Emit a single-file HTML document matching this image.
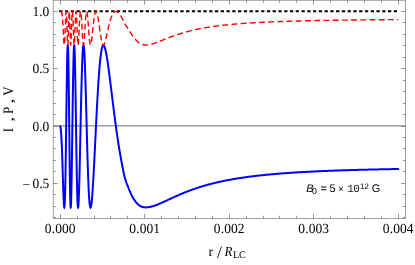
<!DOCTYPE html>
<html><head><meta charset="utf-8"><title>plot</title>
<style>html,body{margin:0;padding:0;background:#fff}svg{display:block}text{text-rendering:geometricPrecision}svg{will-change:transform}.fs{font-family:"Liberation Serif",serif}.fn{font-family:"Liberation Sans",sans-serif}.fm{font-family:"Liberation Mono",monospace}</style></head>
<body>
<svg width="415" height="265" viewBox="0 0 415 265">
<rect width="415" height="265" fill="#fff"/>
<line x1="59.2" y1="11.20" x2="398.3" y2="11.20" stroke="#000" stroke-width="2.0" stroke-dasharray="3.3 2.468"/>
<path d="M60.25,126.30 L60.30,126.39 L60.35,126.54 L60.40,126.73 L60.45,126.96 L60.50,127.23 L60.55,127.53 L60.60,127.87 L60.65,128.23 L60.70,128.62 L60.75,129.02 L60.80,129.44 L60.85,129.87 L60.90,130.31 L60.95,130.79 L61.00,131.36 L61.05,131.99 L61.10,132.69 L61.15,133.44 L61.20,134.23 L61.25,135.05 L61.30,135.89 L61.35,136.75 L61.40,137.61 L61.45,138.48 L61.50,139.37 L61.55,140.29 L61.60,141.24 L61.65,142.23 L61.70,143.24 L61.75,144.30 L61.80,145.39 L61.85,146.53 L61.90,147.71 L61.95,148.94 L62.00,150.22 L62.05,151.54 L62.10,152.91 L62.15,154.32 L62.20,155.76 L62.25,157.25 L62.30,158.76 L62.35,160.31 L62.40,161.89 L62.45,163.49 L62.50,165.11 L62.55,166.75 L62.60,168.40 L62.65,170.07 L62.70,171.74 L62.75,173.42 L62.80,175.10 L62.85,176.77 L62.90,178.44 L62.95,180.10 L63.00,181.74 L63.05,183.37 L63.10,184.97 L63.15,186.55 L63.20,188.10 L63.25,189.61 L63.30,191.08 L63.35,192.52 L63.40,193.90 L63.45,195.24 L63.50,196.52 L63.55,197.75 L63.60,198.92 L63.65,200.02 L63.70,201.06 L63.75,202.02 L63.80,202.92 L63.85,203.74 L63.90,204.48 L63.95,205.13 L64.00,205.71 L64.05,206.20 L64.10,206.61 L64.15,206.92 L64.20,207.15 L64.25,207.29 L64.30,207.33 L64.35,207.29 L64.40,207.14 L64.45,206.90 L64.50,206.56 L64.55,206.10 L64.60,205.54 L64.65,204.86 L64.70,204.06 L64.75,203.15 L64.80,202.11 L64.85,200.95 L64.90,199.66 L64.95,198.25 L65.00,196.70 L65.05,195.03 L65.10,193.23 L65.15,191.30 L65.20,189.24 L65.25,187.05 L65.30,184.74 L65.35,182.30 L65.40,179.74 L65.45,177.07 L65.50,174.27 L65.55,171.37 L65.60,168.35 L65.65,165.24 L65.70,162.02 L65.75,158.72 L65.80,155.33 L65.85,151.85 L65.90,148.31 L65.95,144.70 L66.00,141.03 L66.05,137.31 L66.10,133.55 L66.15,129.76 L66.20,125.94 L66.25,122.11 L66.30,118.27 L66.35,114.43 L66.40,110.61 L66.45,106.81 L66.50,103.04 L66.55,99.32 L66.60,95.65 L66.65,92.04 L66.70,88.51 L66.75,85.05 L66.80,81.69 L66.85,78.43 L66.90,75.28 L66.95,72.24 L67.00,69.33 L67.05,66.56 L67.10,63.93 L67.15,61.45 L67.20,59.13 L67.25,56.97 L67.30,54.97 L67.35,53.16 L67.40,51.52 L67.45,50.07 L67.50,48.80 L67.55,47.72 L67.60,46.84 L67.65,46.15 L67.70,45.66 L67.75,45.36 L67.80,45.27 L67.85,45.37 L67.90,45.67 L67.95,46.18 L68.00,46.89 L68.05,47.83 L68.10,48.98 L68.15,50.35 L68.20,51.94 L68.25,53.75 L68.30,55.77 L68.35,58.01 L68.40,60.46 L68.45,63.12 L68.50,65.98 L68.55,69.03 L68.60,72.27 L68.65,75.69 L68.70,79.28 L68.75,83.02 L68.80,86.91 L68.85,90.94 L68.90,95.09 L68.95,99.34 L69.00,103.69 L69.05,108.11 L69.10,112.61 L69.15,117.14 L69.20,121.71 L69.25,126.30 L69.30,130.89 L69.35,135.46 L69.40,139.99 L69.45,144.49 L69.50,148.91 L69.55,153.26 L69.60,157.51 L69.65,161.66 L69.70,165.69 L69.75,169.58 L69.80,173.32 L69.85,176.91 L69.90,180.33 L69.95,183.57 L70.00,186.62 L70.05,189.48 L70.10,192.14 L70.15,194.59 L70.20,196.83 L70.25,198.85 L70.30,200.66 L70.35,202.25 L70.40,203.62 L70.45,204.77 L70.50,205.71 L70.55,206.42 L70.60,206.93 L70.65,207.23 L70.70,207.33 L70.75,207.24 L70.80,206.94 L70.85,206.46 L70.90,205.79 L70.95,204.94 L71.00,203.90 L71.05,202.69 L71.10,201.31 L71.15,199.76 L71.20,198.05 L71.25,196.18 L71.30,194.17 L71.35,192.01 L71.40,189.71 L71.45,187.28 L71.50,184.72 L71.55,182.05 L71.60,179.26 L71.65,176.37 L71.70,173.38 L71.75,170.30 L71.80,167.14 L71.85,163.90 L71.90,160.59 L71.95,157.22 L72.00,153.79 L72.05,150.31 L72.10,146.80 L72.15,143.25 L72.20,139.68 L72.25,136.09 L72.30,132.49 L72.35,128.88 L72.40,125.28 L72.45,121.68 L72.50,118.11 L72.55,114.55 L72.60,111.03 L72.65,107.54 L72.70,104.10 L72.75,100.70 L72.80,97.36 L72.85,94.08 L72.90,90.87 L72.95,87.73 L73.00,84.66 L73.05,81.69 L73.10,78.79 L73.15,76.00 L73.20,73.29 L73.25,70.70 L73.30,68.20 L73.35,65.82 L73.40,63.56 L73.45,61.41 L73.50,59.38 L73.55,57.48 L73.60,55.71 L73.65,54.07 L73.70,52.56 L73.75,51.19 L73.80,49.96 L73.85,48.87 L73.90,47.92 L73.95,47.11 L74.00,46.45 L74.05,45.93 L74.10,45.56 L74.15,45.34 L74.20,45.27 L74.25,45.34 L74.30,45.56 L74.35,45.93 L74.40,46.45 L74.45,47.12 L74.50,47.93 L74.55,48.89 L74.60,50.00 L74.65,51.25 L74.70,52.63 L74.75,54.16 L74.80,55.82 L74.85,57.61 L74.90,59.53 L74.95,61.57 L75.00,63.74 L75.05,66.02 L75.10,68.41 L75.15,70.91 L75.20,73.52 L75.25,76.21 L75.30,79.00 L75.35,81.88 L75.40,84.83 L75.45,87.86 L75.50,90.95 L75.55,94.11 L75.60,97.32 L75.65,100.58 L75.70,103.88 L75.75,107.22 L75.80,110.58 L75.85,113.97 L75.90,117.37 L75.95,120.78 L76.00,124.19 L76.05,127.60 L76.10,130.99 L76.15,134.37 L76.20,137.73 L76.25,141.06 L76.30,144.35 L76.35,147.60 L76.40,150.81 L76.45,153.96 L76.50,157.06 L76.55,160.09 L76.60,163.05 L76.65,165.95 L76.70,168.77 L76.75,171.51 L76.80,174.16 L76.85,176.73 L76.90,179.20 L76.95,181.58 L77.00,183.87 L77.05,186.05 L77.10,188.14 L77.15,190.12 L77.20,191.99 L77.25,193.76 L77.30,195.42 L77.35,196.97 L77.40,198.41 L77.45,199.75 L77.50,200.97 L77.55,202.08 L77.60,203.08 L77.65,203.97 L77.70,204.76 L77.75,205.44 L77.80,206.01 L77.85,206.47 L77.90,206.84 L77.95,207.10 L78.00,207.27 L78.05,207.33 L78.10,207.30 L78.15,207.18 L78.20,206.97 L78.25,206.66 L78.30,206.27 L78.35,205.79 L78.40,205.22 L78.45,204.56 L78.50,203.83 L78.55,203.01 L78.60,202.11 L78.65,201.13 L78.70,200.08 L78.75,198.95 L78.80,197.75 L78.85,196.48 L78.90,195.14 L78.95,193.74 L79.00,192.27 L79.05,190.74 L79.10,189.15 L79.15,187.51 L79.20,185.81 L79.25,184.05 L79.30,182.25 L79.35,180.40 L79.40,178.50 L79.45,176.56 L79.50,174.57 L79.55,172.55 L79.60,170.49 L79.65,168.40 L79.70,166.27 L79.75,164.12 L79.80,161.93 L79.85,159.72 L79.90,157.49 L79.95,155.24 L80.00,152.97 L80.05,150.68 L80.10,148.38 L80.15,146.06 L80.20,143.74 L80.25,141.41 L80.30,139.07 L80.35,136.73 L80.40,134.38 L80.45,132.04 L80.50,129.70 L80.55,127.36 L80.60,125.03 L80.65,122.70 L80.70,120.39 L80.75,118.09 L80.80,115.80 L80.85,113.52 L80.90,111.26 L80.95,109.02 L81.00,106.80 L81.05,104.60 L81.10,102.43 L81.15,100.28 L81.20,98.15 L81.25,96.05 L81.30,93.98 L81.35,91.94 L81.40,89.94 L81.45,87.96 L81.50,86.02 L81.55,84.11 L81.60,82.24 L81.65,80.41 L81.70,78.61 L81.75,76.85 L81.80,75.14 L81.85,73.46 L81.90,71.83 L81.95,70.24 L82.00,68.69 L82.05,67.19 L82.10,65.73 L82.15,64.32 L82.20,62.96 L82.25,61.64 L82.30,60.37 L82.35,59.15 L82.40,57.98 L82.45,56.86 L82.50,55.79 L82.55,54.77 L82.60,53.80 L82.65,52.88 L82.70,52.01 L82.75,51.20 L82.80,50.43 L82.85,49.72 L82.90,49.06 L82.95,48.45 L83.00,47.90 L83.05,47.40 L83.10,46.95 L83.15,46.55 L83.20,46.21 L83.25,45.92 L83.30,45.69 L83.35,45.50 L83.40,45.37 L83.45,45.29 L83.50,45.27 L83.55,45.29 L83.60,45.37 L83.65,45.50 L83.70,45.68 L83.75,45.92 L83.80,46.21 L83.85,46.54 L83.90,46.93 L83.95,47.37 L84.00,47.86 L84.05,48.41 L84.10,49.00 L84.15,49.64 L84.20,50.33 L84.25,51.07 L84.30,51.85 L84.35,52.69 L84.40,53.57 L84.45,54.50 L84.50,55.47 L84.55,56.49 L84.60,57.55 L84.65,58.65 L84.70,59.80 L84.75,60.98 L84.80,62.21 L84.85,63.48 L84.90,64.78 L84.95,66.13 L85.00,67.51 L85.05,68.92 L85.10,70.37 L85.15,71.85 L85.20,73.37 L85.25,74.92 L85.30,76.49 L85.35,78.10 L85.40,79.73 L85.45,81.39 L85.50,83.08 L85.55,84.78 L85.60,86.52 L85.65,88.27 L85.70,90.04 L85.75,91.84 L85.80,93.65 L85.85,95.47 L85.90,97.32 L85.95,99.17 L86.00,101.04 L86.05,102.92 L86.10,104.81 L86.15,106.71 L86.20,108.62 L86.25,110.53 L86.30,112.45 L86.35,114.38 L86.40,116.30 L86.45,118.23 L86.50,120.16 L86.55,122.08 L86.60,124.01 L86.65,125.93 L86.70,127.84 L86.75,129.75 L86.80,131.66 L86.85,133.55 L86.90,135.44 L86.95,137.32 L87.00,139.18 L87.05,141.04 L87.10,142.88 L87.15,144.70 L87.20,146.51 L87.25,148.31 L87.30,150.09 L87.35,151.85 L87.40,153.59 L87.45,155.31 L87.50,157.01 L87.55,158.69 L87.60,160.35 L87.65,161.98 L87.70,163.60 L87.75,165.18 L87.80,166.75 L87.85,168.28 L87.90,169.80 L87.95,171.28 L88.00,172.74 L88.05,174.17 L88.10,175.57 L88.15,176.94 L88.20,178.29 L88.25,179.60 L88.30,180.89 L88.35,182.15 L88.40,183.37 L88.45,184.57 L88.50,185.73 L88.55,186.86 L88.60,187.96 L88.65,189.03 L88.70,190.07 L88.75,191.08 L88.80,192.06 L88.85,193.00 L88.90,193.91 L88.95,194.79 L89.00,195.64 L89.05,196.46 L89.10,197.24 L89.15,197.99 L89.20,198.72 L89.25,199.41 L89.30,200.07 L89.35,200.70 L89.40,201.29 L89.45,201.86 L89.50,202.40 L89.55,202.91 L89.60,203.38 L89.65,203.83 L89.70,204.25 L89.75,204.64 L89.80,205.00 L89.85,205.34 L89.90,205.64 L89.95,205.92 L90.00,206.18 L90.05,206.40 L90.10,206.60 L90.15,206.78 L90.20,206.93 L90.25,207.05 L90.30,207.16 L90.35,207.23 L90.40,207.29 L90.45,207.32 L90.50,207.33 L90.55,207.32 L90.60,207.29 L90.65,207.24 L90.70,207.16 L90.75,207.07 L90.80,206.95 L90.85,206.82 L90.90,206.66 L90.95,206.49 L91.00,206.29 L91.05,206.07 L91.10,205.84 L91.15,205.58 L91.20,205.31 L91.25,205.02 L91.30,204.71 L91.35,204.38 L91.40,204.03 L91.45,203.66 L91.50,203.28 L91.55,202.88 L91.60,202.46 L91.65,202.02 L91.70,201.57 L91.75,201.10 L91.80,200.62 L91.85,200.12 L91.90,199.60 L91.95,199.06 L92.00,198.52 L92.05,197.95 L92.10,197.37 L92.15,196.78 L92.20,196.17 L92.25,195.55 L92.30,194.91 L92.35,194.26 L92.40,193.60 L92.45,192.92 L92.50,192.23 L92.55,191.53 L92.60,190.81 L92.65,190.08 L92.70,189.35 L92.75,188.59 L92.80,187.83 L92.85,187.06 L92.90,186.27 L92.95,185.48 L93.00,184.67 L93.05,183.86 L93.10,183.03 L93.15,182.19 L93.20,181.35 L93.25,180.49 L93.30,179.63 L93.35,178.76 L93.40,177.88 L93.45,176.99 L93.50,176.09 L93.55,175.19 L93.60,174.28 L93.65,173.36 L93.70,172.43 L93.75,171.50 L93.80,170.56 L93.85,169.61 L93.90,168.66 L93.95,167.70 L94.00,166.74 L94.05,165.77 L94.10,164.80 L94.15,163.82 L94.20,162.84 L94.25,161.85 L94.30,160.86 L94.35,159.86 L94.40,158.86 L94.45,157.86 L94.50,156.85 L94.55,155.84 L94.60,154.83 L94.65,153.81 L94.70,152.80 L94.75,151.78 L94.80,150.76 L94.85,149.73 L94.90,148.71 L94.95,147.68 L95.00,146.65 L95.05,145.62 L95.10,144.59 L95.15,143.56 L95.20,142.53 L95.25,141.50 L95.30,140.47 L95.35,139.44 L95.40,138.41 L95.45,137.38 L95.50,136.35 L95.55,135.32 L95.60,134.29 L95.65,133.27 L95.70,132.24 L95.75,131.22 L95.80,130.19 L95.85,129.17 L95.90,128.15 L95.95,127.14 L96.00,126.12 L96.05,125.11 L96.10,124.10 L96.15,123.10 L96.20,122.09 L96.25,121.09 L96.30,120.09 L96.35,119.10 L96.40,118.11 L96.45,117.12 L96.50,116.14 L96.55,115.16 L96.60,114.18 L96.65,113.21 L96.70,112.25 L96.75,111.28 L96.80,110.33 L96.85,109.37 L96.90,108.42 L96.95,107.48 L97.00,106.54 L97.05,105.60 L97.10,104.67 L97.15,103.75 L97.20,102.83 L97.25,101.92 L97.30,101.01 L97.35,100.11 L97.40,99.21 L97.45,98.32 L97.50,97.44 L97.55,96.56 L97.60,95.69 L97.65,94.82 L97.70,93.96 L97.75,93.10 L97.80,92.26 L97.85,91.42 L97.90,90.58 L97.95,89.75 L98.00,88.93 L98.05,88.12 L98.10,87.31 L98.15,86.51 L98.20,85.71 L98.25,84.93 L98.30,84.15 L98.35,83.37 L98.40,82.61 L98.45,81.85 L98.50,81.10 L98.55,80.35 L98.60,79.62 L98.65,78.89 L98.70,78.17 L98.75,77.45 L98.80,76.75 L98.85,76.05 L98.90,75.35 L98.95,74.67 L99.00,73.99 L99.05,73.33 L99.10,72.67 L99.15,72.01 L99.20,71.37 L99.25,70.73 L99.30,70.10 L99.35,69.48 L99.40,68.86 L99.45,68.26 L99.50,67.66 L99.55,67.07 L99.60,66.49 L99.65,65.92 L99.70,65.35 L99.75,64.79 L99.80,64.24 L99.85,63.70 L99.90,63.17 L99.95,62.64 L100.00,62.12 L100.05,61.61 L100.10,61.11 L100.15,60.62 L100.20,60.13 L100.25,59.65 L100.30,59.18 L100.35,58.72 L100.40,58.27 L100.45,57.83 L100.50,57.39 L100.55,56.96 L100.60,56.54 L100.65,56.13 L100.70,55.72 L100.75,55.32 L100.80,54.94 L100.85,54.55 L100.90,54.18 L100.95,53.82 L101.00,53.46 L101.05,53.11 L101.10,52.77 L101.15,52.44 L101.20,52.11 L101.25,51.80 L101.30,51.49 L101.35,51.18 L101.40,50.89 L101.45,50.61 L101.50,50.33 L101.55,50.06 L101.60,49.79 L101.65,49.54 L101.70,49.29 L101.75,49.05 L101.80,48.82 L101.85,48.60 L101.90,48.38 L101.95,48.17 L102.00,47.97 L102.05,47.78 L102.10,47.59 L102.15,47.41 L102.20,47.24 L102.25,47.08 L102.30,46.92 L102.35,46.77 L102.40,46.63 L102.45,46.49 L102.50,46.36 L102.55,46.24 L102.60,46.13 L102.65,46.03 L102.70,45.93 L102.75,45.83 L102.80,45.75 L102.85,45.67 L102.90,45.60 L102.95,45.54 L103.00,45.48 L103.05,45.43 L103.10,45.39 L103.15,45.35 L103.20,45.32 L103.25,45.30 L103.30,45.28 L103.35,45.27 L103.40,45.27 L103.45,45.27 L103.50,45.28 L103.55,45.30 L103.60,45.32 L103.65,45.35 L103.70,45.38 L103.75,45.42 L103.80,45.47 L103.85,45.52 L103.90,45.58 L103.95,45.65 L104.00,45.72 L104.05,45.79 L104.10,45.87 L104.15,45.96 L104.20,46.05 L104.25,46.15 L104.30,46.25 L104.35,46.36 L104.40,46.48 L104.45,46.60 L104.50,46.72 L104.55,46.85 L104.60,46.98 L104.65,47.12 L104.70,47.26 L104.75,47.41 L104.80,47.56 L104.85,47.72 L104.90,47.88 L104.95,48.05 L105.00,48.22 L105.05,48.40 L105.10,48.57 L105.15,48.76 L105.20,48.95 L105.25,49.14 L105.30,49.33 L105.35,49.53 L105.40,49.74 L105.45,49.94 L105.50,50.16 L105.55,50.37 L105.60,50.59 L105.65,50.81 L105.70,51.04 L105.75,51.27 L105.80,51.50 L105.85,51.74 L105.90,51.98 L105.95,52.22 L106.00,52.47 L106.05,52.72 L106.10,52.97 L106.15,53.23 L106.20,53.49 L106.25,53.75 L106.30,54.02 L106.35,54.29 L106.40,54.56 L106.45,54.84 L106.50,55.11 L106.55,55.39 L106.60,55.68 L106.65,55.96 L106.70,56.25 L106.75,56.55 L106.80,56.84 L106.85,57.14 L106.90,57.44 L106.95,57.74 L107.00,58.04 L107.05,58.35 L107.10,58.66 L107.15,58.97 L107.20,59.29 L107.25,59.60 L107.30,59.92 L107.35,60.25 L107.40,60.57 L107.45,60.90 L107.50,61.22 L107.55,61.55 L107.60,61.89 L107.65,62.22 L107.70,62.56 L107.75,62.90 L107.80,63.24 L107.85,63.58 L107.90,63.93 L107.95,64.27 L108.00,64.62 L108.05,64.97 L108.10,65.33 L108.15,65.68 L108.20,66.04 L108.25,66.40 L108.30,66.76 L108.35,67.12 L108.40,67.48 L108.45,67.85 L108.50,68.22 L108.55,68.59 L108.60,68.96 L108.65,69.33 L108.70,69.70 L108.75,70.08 L108.80,70.46 L108.85,70.84 L108.90,71.22 L108.95,71.60 L109.00,71.98 L109.05,72.36 L109.10,72.75 L109.15,73.13 L109.20,73.52 L109.25,73.90 L109.30,74.29 L109.35,74.68 L109.40,75.07 L109.45,75.46 L109.50,75.85 L109.55,76.24 L109.60,76.63 L109.65,77.02 L109.70,77.42 L109.75,77.81 L109.80,78.20 L109.85,78.60 L109.90,78.99 L109.95,79.39 L110.00,79.78 L110.05,80.18 L110.10,80.58 L110.15,80.97 L110.20,81.37 L110.25,81.77 L110.30,82.17 L110.35,82.57 L110.40,82.97 L110.45,83.37 L110.50,83.77 L110.55,84.17 L110.60,84.57 L110.65,84.97 L110.70,85.37 L110.75,85.77 L110.80,86.18 L110.85,86.58 L110.90,86.98 L110.95,87.38 L111.00,87.78 L111.05,88.19 L111.10,88.59 L111.15,88.99 L111.20,89.40 L111.25,89.80 L111.30,90.20 L111.35,90.61 L111.40,91.01 L111.45,91.42 L111.50,91.82 L111.55,92.23 L111.60,92.63 L111.65,93.03 L111.70,93.44 L111.75,93.84 L111.80,94.25 L111.85,94.65 L111.90,95.06 L111.95,95.46 L112.00,95.87 L112.05,96.27 L112.10,96.68 L112.15,97.08 L112.20,97.49 L112.25,97.89 L112.30,98.30 L112.35,98.70 L112.40,99.11 L112.45,99.51 L112.50,99.92 L112.55,100.32 L112.60,100.73 L112.65,101.13 L112.70,101.54 L112.75,101.94 L112.80,102.35 L112.85,102.75 L112.90,103.16 L112.95,103.56 L113.00,103.97 L113.05,104.37 L113.10,104.78 L113.15,105.18 L113.20,105.59 L113.25,105.99 L113.30,106.39 L113.35,106.80 L113.40,107.20 L113.45,107.60 L113.50,108.00 L113.55,108.41 L113.60,108.80 L113.65,109.20 L113.70,109.60 L113.75,110.00 L113.80,110.39 L113.85,110.79 L113.90,111.18 L113.95,111.57 L114.00,111.96 L114.05,112.36 L114.10,112.75 L114.15,113.14 L114.20,113.52 L114.25,113.91 L114.30,114.30 L114.35,114.68 L114.40,115.07 L114.45,115.45 L114.50,115.84 L114.55,116.22 L114.60,116.60 L114.65,116.98 L114.70,117.36 L114.75,117.74 L114.80,118.12 L114.85,118.50 L114.90,118.88 L114.95,119.25 L115.00,119.63 L115.05,120.00 L115.10,120.38 L115.15,120.75 L115.20,121.13 L115.25,121.50 L115.30,121.87 L115.35,122.24 L115.40,122.62 L115.45,122.99 L115.50,123.36 L115.55,123.73 L115.60,124.10 L115.65,124.46 L115.70,124.83 L115.75,125.20 L115.80,125.57 L115.85,125.93 L115.90,126.30 L115.95,126.67 L116.00,127.03 L116.05,127.40 L116.10,127.76 L116.15,128.12 L116.20,128.48 L116.25,128.85 L116.30,129.21 L116.35,129.57 L116.40,129.93 L116.45,130.29 L116.50,130.64 L116.55,131.00 L116.60,131.36 L116.65,131.71 L116.70,132.07 L116.75,132.42 L116.80,132.78 L116.85,133.13 L116.90,133.48 L116.95,133.83 L117.00,134.18 L117.05,134.53 L117.10,134.88 L117.15,135.22 L117.20,135.57 L117.25,135.92 L117.30,136.26 L117.35,136.60 L117.40,136.95 L117.45,137.29 L117.50,137.63 L117.55,137.97 L117.60,138.31 L117.65,138.64 L117.70,138.98 L117.75,139.32 L117.80,139.65 L117.85,139.98 L117.90,140.32 L117.95,140.65 L118.00,140.98 L118.05,141.31 L118.10,141.64 L118.15,141.96 L118.20,142.29 L118.25,142.62 L118.30,142.94 L118.35,143.26 L118.40,143.58 L118.45,143.91 L118.50,144.23 L118.55,144.54 L118.60,144.86 L118.65,145.18 L118.70,145.49 L118.75,145.81 L118.80,146.12 L118.85,146.43 L118.90,146.74 L118.95,147.05 L119.00,147.36 L119.05,147.67 L119.10,147.98 L119.15,148.28 L119.20,148.59 L119.25,148.89 L119.30,149.19 L119.35,149.49 L119.40,149.79 L119.45,150.09 L119.50,150.39 L119.55,150.69 L119.60,150.99 L119.65,151.28 L119.70,151.58 L119.75,151.87 L119.80,152.17 L119.85,152.46 L119.90,152.75 L119.95,153.04 L120.00,153.33 L120.05,153.62 L120.10,153.91 L120.15,154.19 L120.20,154.48 L120.25,154.76 L120.30,155.05 L120.35,155.33 L120.40,155.61 L120.45,155.90 L120.50,156.18 L120.55,156.46 L120.60,156.74 L120.65,157.02 L120.70,157.29 L120.75,157.57 L120.80,157.85 L120.85,158.12 L120.90,158.40 L120.95,158.67 L121.00,158.95 L121.05,159.22 L121.10,159.49 L121.15,159.76 L121.20,160.04 L121.25,160.31 L121.30,160.57 L121.35,160.84 L121.40,161.11 L121.45,161.38 L121.50,161.65 L121.55,161.91 L121.60,162.18 L121.65,162.44 L121.70,162.71 L121.75,162.98 L121.80,163.24 L121.85,163.51 L121.90,163.78 L121.95,164.04 L122.00,164.31 L122.05,164.58 L122.10,164.84 L122.15,165.11 L122.20,165.37 L122.25,165.64 L122.30,165.90 L122.35,166.17 L122.40,166.43 L122.45,166.70 L122.50,166.96 L122.55,167.22 L122.60,167.49 L122.65,167.75 L122.70,168.01 L122.75,168.27 L122.80,168.53 L122.85,168.78 L122.90,169.04 L122.95,169.30 L123.00,169.55 L123.05,169.80 L123.10,170.06 L123.15,170.31 L123.20,170.56 L123.25,170.81 L123.30,171.05 L123.35,171.30 L123.40,171.54 L123.45,171.78 L123.50,172.03 L123.55,172.27 L123.60,172.50 L123.65,172.74 L123.70,172.97 L123.75,173.21 L123.80,173.44 L123.85,173.67 L123.90,173.89 L123.95,174.12 L124.00,174.34 L124.05,174.56 L124.10,174.78 L124.15,175.00 L124.20,175.22 L124.25,175.43 L124.30,175.64 L124.35,175.85 L124.40,176.06 L124.45,176.26 L124.50,176.46 L124.55,176.66 L124.60,176.86 L124.65,177.05 L124.70,177.24 L124.75,177.43 L124.80,177.62 L124.85,177.81 L124.90,177.99 L124.95,178.17 L125.00,178.34 L125.05,178.52 L125.10,178.69 L125.15,178.86 L125.20,179.03 L125.25,179.20 L125.30,179.36 L125.35,179.52 L125.40,179.69 L125.45,179.84 L125.50,180.00 L125.55,180.16 L125.60,180.31 L125.65,180.47 L125.70,180.62 L125.75,180.77 L125.80,180.92 L125.85,181.06 L125.90,181.21 L125.95,181.35 L126.00,181.50 L126.05,181.64 L126.10,181.78 L126.15,181.92 L126.20,182.06 L126.25,182.19 L126.30,182.33 L126.35,182.47 L126.40,182.60 L126.45,182.73 L126.50,182.87 L126.55,183.00 L126.60,183.13 L126.65,183.26 L126.70,183.39 L126.75,183.52 L126.80,183.65 L126.85,183.77 L126.90,183.90 L126.95,184.03 L127.00,184.15 L127.05,184.28 L127.10,184.40 L127.15,184.53 L127.20,184.65 L127.25,184.77 L127.30,184.90 L127.35,185.02 L127.40,185.14 L127.45,185.27 L127.50,185.39 L127.55,185.51 L127.60,185.63 L127.65,185.75 L127.70,185.88 L127.75,186.00 L127.80,186.12 L127.85,186.24 L127.90,186.36 L127.95,186.48 L128.00,186.61 L128.05,186.73 L128.10,186.85 L128.15,186.97 L128.20,187.09 L128.25,187.22 L128.30,187.34 L128.35,187.46 L128.40,187.59 L128.45,187.71 L128.50,187.83 L128.55,187.96 L128.60,188.08 L128.65,188.21 L128.70,188.33 L128.75,188.46 L128.80,188.58 L128.85,188.71 L128.90,188.83 L128.95,188.96 L129.00,189.08 L129.05,189.21 L129.10,189.33 L129.15,189.46 L129.20,189.58 L129.25,189.70 L129.30,189.83 L129.35,189.95 L129.40,190.07 L129.45,190.20 L129.50,190.32 L129.55,190.44 L129.60,190.56 L129.65,190.69 L129.70,190.81 L129.75,190.93 L129.80,191.05 L129.85,191.17 L129.90,191.29 L129.95,191.41 L130.00,191.53 L130.05,191.65 L130.10,191.77 L130.15,191.89 L130.20,192.01 L130.25,192.13 L130.30,192.24 L130.35,192.36 L130.40,192.48 L130.45,192.59 L130.50,192.71 L130.55,192.82 L130.60,192.94 L130.65,193.05 L130.70,193.17 L130.75,193.28 L130.80,193.40 L130.85,193.51 L130.90,193.62 L130.95,193.73 L131.00,193.84 L131.05,193.95 L131.10,194.06 L131.15,194.17 L131.20,194.28 L131.25,194.39 L131.30,194.50 L131.35,194.60 L131.40,194.71 L131.45,194.82 L131.50,194.92 L131.55,195.03 L131.60,195.13 L131.65,195.24 L131.70,195.34 L131.75,195.44 L131.80,195.54 L131.85,195.64 L131.90,195.74 L131.95,195.84 L132.00,195.94 L132.05,196.04 L132.10,196.14 L132.15,196.24 L132.20,196.33 L132.25,196.43 L132.30,196.52 L132.35,196.62 L132.40,196.71 L132.45,196.81 L132.50,196.90 L132.55,196.99 L132.60,197.08 L132.65,197.17 L132.70,197.26 L132.75,197.35 L132.80,197.44 L132.85,197.52 L132.90,197.61 L132.95,197.70 L133.00,197.78 L133.05,197.87 L133.10,197.95 L133.15,198.03 L133.20,198.12 L133.25,198.20 L133.30,198.28 L133.35,198.36 L133.40,198.44 L133.45,198.52 L133.50,198.60 L133.55,198.68 L133.60,198.76 L133.65,198.84 L133.70,198.92 L133.75,199.00 L133.80,199.08 L133.85,199.15 L133.90,199.23 L133.95,199.31 L134.00,199.39 L134.05,199.46 L134.10,199.54 L134.15,199.61 L134.20,199.69 L134.25,199.76 L134.30,199.84 L134.35,199.91 L134.40,199.99 L134.45,200.06 L134.50,200.13 L134.55,200.20 L134.60,200.28 L134.65,200.35 L134.70,200.42 L134.75,200.49 L134.80,200.56 L134.85,200.63 L134.90,200.70 L134.95,200.77 L135.00,200.84 L135.05,200.91 L135.10,200.98 L135.15,201.05 L135.20,201.12 L135.25,201.18 L135.30,201.25 L135.35,201.32 L135.40,201.38 L135.45,201.45 L135.50,201.51 L135.55,201.58 L135.60,201.64 L135.65,201.71 L135.70,201.77 L135.75,201.84 L135.80,201.90 L135.85,201.96 L135.90,202.03 L135.95,202.09 L136.00,202.15 L136.05,202.21 L136.10,202.27 L136.15,202.33 L136.20,202.39 L136.25,202.45 L136.30,202.51 L136.35,202.57 L136.40,202.63 L136.45,202.69 L136.50,202.75 L136.55,202.80 L136.60,202.86 L136.65,202.92 L136.70,202.97 L136.75,203.03 L136.80,203.08 L136.85,203.14 L136.90,203.19 L136.95,203.25 L137.00,203.30 L137.05,203.36 L137.10,203.41 L137.15,203.46 L137.20,203.51 L137.25,203.57 L137.30,203.62 L137.35,203.67 L137.40,203.72 L137.45,203.77 L137.50,203.82 L137.55,203.87 L137.60,203.92 L137.65,203.97 L137.70,204.02 L137.75,204.07 L137.80,204.11 L137.85,204.16 L137.90,204.21 L137.95,204.25 L138.00,204.30 L138.05,204.35 L138.10,204.39 L138.15,204.44 L138.20,204.48 L138.25,204.52 L138.30,204.57 L138.35,204.61 L138.40,204.66 L138.45,204.70 L138.50,204.74 L138.55,204.78 L138.60,204.82 L138.65,204.86 L138.70,204.91 L138.75,204.95 L138.80,204.99 L138.85,205.03 L138.90,205.06 L138.95,205.10 L139.00,205.14 L139.05,205.18 L139.10,205.22 L139.15,205.26 L139.20,205.29 L139.25,205.33 L139.30,205.37 L139.35,205.40 L139.40,205.44 L139.45,205.47 L139.50,205.51 L139.55,205.54 L139.60,205.58 L139.65,205.61 L139.70,205.64 L139.75,205.68 L139.80,205.71 L139.85,205.74 L139.90,205.77 L139.95,205.80 L140.00,205.84 L140.05,205.87 L140.10,205.90 L140.15,205.93 L140.20,205.96 L140.25,205.99 L140.30,206.02 L140.35,206.04 L140.40,206.07 L140.45,206.10 L140.50,206.13 L140.55,206.16 L140.60,206.18 L140.65,206.21 L140.70,206.24 L140.75,206.26 L140.80,206.29 L140.85,206.31 L140.90,206.34 L140.95,206.36 L141.00,206.39 L141.05,206.41 L141.10,206.43 L141.15,206.46 L141.20,206.48 L141.25,206.50 L141.30,206.53 L141.35,206.55 L141.40,206.57 L141.45,206.59 L141.50,206.61 L141.55,206.63 L141.60,206.65 L141.65,206.67 L141.70,206.69 L141.75,206.71 L141.80,206.73 L141.85,206.75 L141.90,206.77 L141.95,206.79 L142.00,206.80 L142.05,206.82 L142.10,206.84 L142.15,206.86 L142.20,206.87 L142.25,206.89 L142.30,206.91 L142.35,206.92 L142.40,206.94 L142.45,206.95 L142.50,206.97 L142.55,206.98 L142.60,207.00 L142.65,207.01 L142.70,207.02 L142.75,207.04 L142.80,207.05 L142.85,207.06 L142.90,207.08 L142.95,207.09 L143.00,207.10 L143.05,207.11 L143.10,207.12 L143.15,207.14 L143.20,207.15 L143.25,207.16 L143.30,207.17 L143.35,207.18 L143.40,207.19 L143.45,207.20 L143.50,207.21 L143.55,207.22 L143.60,207.23 L143.65,207.23 L143.70,207.24 L143.75,207.25 L143.80,207.26 L143.85,207.27 L143.90,207.27 L143.95,207.28 L144.00,207.29 L144.05,207.29 L144.10,207.30 L144.15,207.31 L144.20,207.31 L144.25,207.32 L144.30,207.32 L144.35,207.33 L144.40,207.34 L144.45,207.34 L144.50,207.35 L144.55,207.35 L144.60,207.35 L144.65,207.36 L144.70,207.36 L144.75,207.37 L144.80,207.37 L144.85,207.37 L144.90,207.38 L144.95,207.38 L145.00,207.38 L145.05,207.38 L145.10,207.39 L145.15,207.39 L145.20,207.39 L145.25,207.39 L145.30,207.39 L145.35,207.39 L145.40,207.39 L145.45,207.40 L145.50,207.40 L145.55,207.40 L145.60,207.40 L145.65,207.40 L145.70,207.40 L145.75,207.40 L145.80,207.40 L145.85,207.40 L145.90,207.40 L145.95,207.40 L146.00,207.39 L146.05,207.39 L146.10,207.39 L146.15,207.39 L146.20,207.39 L146.25,207.39 L146.30,207.39 L146.35,207.38 L146.40,207.38 L146.45,207.38 L146.50,207.38 L146.55,207.37 L146.60,207.37 L146.65,207.37 L146.70,207.37 L146.75,207.36 L146.80,207.36 L146.85,207.36 L146.90,207.35 L146.95,207.35 L147.00,207.34 L147.05,207.34 L147.10,207.34 L147.15,207.33 L147.20,207.33 L147.25,207.32 L147.30,207.32 L147.35,207.31 L147.40,207.31 L147.45,207.30 L147.50,207.30 L147.55,207.29 L147.60,207.29 L147.65,207.28 L147.70,207.28 L147.75,207.27 L147.80,207.27 L147.85,207.26 L147.90,207.26 L147.95,207.25 L148.00,207.24 L148.05,207.24 L148.10,207.23 L148.15,207.22 L148.20,207.22 L148.25,207.21 L148.30,207.20 L148.35,207.20 L148.40,207.19 L148.45,207.18 L148.50,207.18 L148.55,207.17 L148.60,207.16 L148.65,207.15 L148.70,207.15 L148.75,207.14 L148.80,207.13 L148.85,207.12 L148.90,207.12 L148.95,207.11 L149.00,207.10 L149.05,207.09 L149.10,207.08 L149.15,207.07 L149.20,207.07 L149.25,207.06 L149.30,207.05 L149.35,207.04 L149.40,207.03 L149.45,207.02 L149.50,207.01 L149.55,207.00 L149.60,206.99 L149.65,206.99 L149.70,206.98 L149.75,206.97 L149.80,206.96 L149.85,206.95 L149.90,206.94 L149.95,206.93 L150.00,206.92 L150.50,206.81 L151.00,206.70 L151.50,206.58 L152.00,206.45 L152.50,206.31 L153.00,206.16 L153.50,206.01 L154.00,205.84 L154.50,205.68 L155.00,205.51 L155.50,205.33 L156.00,205.14 L156.50,204.96 L157.00,204.77 L157.50,204.57 L158.00,204.37 L158.50,204.17 L159.00,203.96 L159.50,203.76 L160.00,203.54 L160.50,203.33 L161.00,203.11 L161.50,202.89 L162.00,202.66 L162.50,202.44 L163.00,202.21 L163.50,201.99 L164.00,201.76 L164.50,201.53 L165.00,201.30 L165.50,201.07 L166.00,200.83 L166.50,200.60 L167.00,200.37 L167.50,200.14 L168.00,199.90 L168.50,199.67 L169.00,199.44 L169.50,199.20 L170.00,198.97 L170.50,198.74 L171.00,198.51 L171.50,198.28 L172.00,198.04 L172.50,197.81 L173.00,197.58 L173.50,197.36 L174.00,197.13 L174.50,196.90 L175.00,196.67 L175.50,196.45 L176.00,196.22 L176.50,196.00 L177.00,195.78 L177.50,195.56 L178.00,195.34 L178.50,195.12 L179.00,194.90 L179.50,194.68 L180.00,194.47 L180.50,194.26 L181.00,194.04 L181.50,193.83 L182.00,193.62 L182.50,193.41 L183.00,193.21 L183.50,193.00 L184.00,192.80 L184.50,192.59 L185.00,192.39 L185.50,192.19 L186.00,191.99 L186.50,191.80 L187.00,191.60 L187.50,191.41 L188.00,191.21 L188.50,191.02 L189.00,190.83 L189.50,190.64 L190.00,190.46 L190.50,190.27 L191.00,190.09 L191.50,189.91 L192.00,189.72 L192.50,189.55 L193.00,189.37 L193.50,189.19 L194.00,189.02 L194.50,188.84 L195.00,188.67 L195.50,188.50 L196.00,188.33 L196.50,188.16 L197.00,187.99 L197.50,187.83 L198.00,187.67 L198.50,187.50 L199.00,187.34 L199.50,187.18 L200.00,187.03 L200.50,186.87 L201.00,186.71 L201.50,186.56 L202.00,186.41 L202.50,186.26 L203.00,186.11 L203.50,185.96 L204.00,185.81 L204.50,185.66 L205.00,185.52 L205.50,185.38 L206.00,185.23 L206.50,185.09 L207.00,184.95 L207.50,184.81 L208.00,184.68 L208.50,184.54 L209.00,184.41 L209.50,184.27 L210.00,184.14 L210.50,184.01 L211.00,183.88 L211.50,183.75 L212.00,183.62 L212.50,183.50 L213.00,183.37 L213.50,183.25 L214.00,183.12 L214.50,183.00 L215.00,182.88 L215.50,182.76 L216.00,182.64 L216.50,182.53 L217.00,182.41 L217.50,182.29 L218.00,182.18 L218.50,182.07 L219.00,181.95 L219.50,181.84 L220.00,181.73 L220.50,181.62 L221.00,181.52 L221.50,181.41 L222.00,181.30 L222.50,181.20 L223.00,181.09 L223.50,180.99 L224.00,180.89 L224.50,180.78 L225.00,180.68 L225.50,180.58 L226.00,180.48 L226.50,180.39 L227.00,180.29 L227.50,180.19 L228.00,180.10 L228.50,180.00 L229.00,179.91 L229.50,179.82 L230.00,179.72 L230.50,179.63 L231.00,179.54 L231.50,179.45 L232.00,179.36 L232.50,179.28 L233.00,179.19 L233.50,179.10 L234.00,179.02 L234.50,178.93 L235.00,178.85 L235.50,178.76 L236.00,178.68 L236.50,178.60 L237.00,178.52 L237.50,178.44 L238.00,178.36 L238.50,178.28 L239.00,178.20 L239.50,178.12 L240.00,178.05 L240.50,177.97 L241.00,177.89 L241.50,177.82 L242.00,177.74 L242.50,177.67 L243.00,177.60 L243.50,177.52 L244.00,177.45 L244.50,177.38 L245.00,177.31 L245.50,177.24 L246.00,177.17 L246.50,177.10 L247.00,177.03 L247.50,176.97 L248.00,176.90 L248.50,176.83 L249.00,176.77 L249.50,176.70 L250.00,176.64 L250.50,176.57 L251.00,176.51 L251.50,176.44 L252.00,176.38 L252.50,176.32 L253.00,176.26 L253.50,176.20 L254.00,176.14 L254.50,176.08 L255.00,176.02 L255.50,175.96 L256.00,175.90 L256.50,175.84 L257.00,175.78 L257.50,175.73 L258.00,175.67 L258.50,175.61 L259.00,175.56 L259.50,175.50 L260.00,175.45 L260.50,175.39 L261.00,175.34 L261.50,175.29 L262.00,175.23 L262.50,175.18 L263.00,175.13 L263.50,175.08 L264.00,175.03 L264.50,174.98 L265.00,174.92 L265.50,174.87 L266.00,174.82 L266.50,174.78 L267.00,174.73 L267.50,174.68 L268.00,174.63 L268.50,174.58 L269.00,174.54 L269.50,174.49 L270.00,174.44 L270.50,174.40 L271.00,174.35 L271.50,174.30 L272.00,174.26 L272.50,174.21 L273.00,174.17 L273.50,174.13 L274.00,174.08 L274.50,174.04 L275.00,174.00 L275.50,173.95 L276.00,173.91 L276.50,173.87 L277.00,173.83 L277.50,173.79 L278.00,173.75 L278.50,173.70 L279.00,173.66 L279.50,173.62 L280.00,173.58 L280.50,173.55 L281.00,173.51 L281.50,173.47 L282.00,173.43 L282.50,173.39 L283.00,173.35 L283.50,173.31 L284.00,173.28 L284.50,173.24 L285.00,173.20 L285.50,173.17 L286.00,173.13 L286.50,173.09 L287.00,173.06 L287.50,173.02 L288.00,172.99 L288.50,172.95 L289.00,172.92 L289.50,172.88 L290.00,172.85 L290.50,172.82 L291.00,172.78 L291.50,172.75 L292.00,172.72 L292.50,172.68 L293.00,172.65 L293.50,172.62 L294.00,172.59 L294.50,172.55 L295.00,172.52 L295.50,172.49 L296.00,172.46 L296.50,172.43 L297.00,172.40 L297.50,172.37 L298.00,172.34 L298.50,172.31 L299.00,172.28 L299.50,172.25 L300.00,172.22 L300.50,172.19 L301.00,172.16 L301.50,172.13 L302.00,172.10 L302.50,172.08 L303.00,172.05 L303.50,172.02 L304.00,171.99 L304.50,171.96 L305.00,171.94 L305.50,171.91 L306.00,171.88 L306.50,171.86 L307.00,171.83 L307.50,171.80 L308.00,171.78 L308.50,171.75 L309.00,171.72 L309.50,171.70 L310.00,171.67 L310.50,171.65 L311.00,171.62 L311.50,171.60 L312.00,171.57 L312.50,171.55 L313.00,171.52 L313.50,171.50 L314.00,171.48 L314.50,171.45 L315.00,171.43 L315.50,171.40 L316.00,171.38 L316.50,171.36 L317.00,171.33 L317.50,171.31 L318.00,171.29 L318.50,171.27 L319.00,171.24 L319.50,171.22 L320.00,171.20 L320.50,171.18 L321.00,171.15 L321.50,171.13 L322.00,171.11 L322.50,171.09 L323.00,171.07 L323.50,171.05 L324.00,171.03 L324.50,171.01 L325.00,170.98 L325.50,170.96 L326.00,170.94 L326.50,170.92 L327.00,170.90 L327.50,170.88 L328.00,170.86 L328.50,170.84 L329.00,170.82 L329.50,170.80 L330.00,170.78 L330.50,170.77 L331.00,170.75 L331.50,170.73 L332.00,170.71 L332.50,170.69 L333.00,170.67 L333.50,170.65 L334.00,170.63 L334.50,170.62 L335.00,170.60 L335.50,170.58 L336.00,170.56 L336.50,170.54 L337.00,170.53 L337.50,170.51 L338.00,170.49 L338.50,170.47 L339.00,170.46 L339.50,170.44 L340.00,170.42 L340.50,170.40 L341.00,170.39 L341.50,170.37 L342.00,170.35 L342.50,170.34 L343.00,170.32 L343.50,170.31 L344.00,170.29 L344.50,170.27 L345.00,170.26 L345.50,170.24 L346.00,170.23 L346.50,170.21 L347.00,170.19 L347.50,170.18 L348.00,170.16 L348.50,170.15 L349.00,170.13 L349.50,170.12 L350.00,170.10 L350.50,170.09 L351.00,170.07 L351.50,170.06 L352.00,170.04 L352.50,170.03 L353.00,170.01 L353.50,170.00 L354.00,169.99 L354.50,169.97 L355.00,169.96 L355.50,169.94 L356.00,169.93 L356.50,169.92 L357.00,169.90 L357.50,169.89 L358.00,169.87 L358.50,169.86 L359.00,169.85 L359.50,169.83 L360.00,169.82 L360.50,169.81 L361.00,169.79 L361.50,169.78 L362.00,169.77 L362.50,169.76 L363.00,169.74 L363.50,169.73 L364.00,169.72 L364.50,169.70 L365.00,169.69 L365.50,169.68 L366.00,169.67 L366.50,169.65 L367.00,169.64 L367.50,169.63 L368.00,169.62 L368.50,169.61 L369.00,169.59 L369.50,169.58 L370.00,169.57 L370.50,169.56 L371.00,169.55 L371.50,169.54 L372.00,169.52 L372.50,169.51 L373.00,169.50 L373.50,169.49 L374.00,169.48 L374.50,169.47 L375.00,169.46 L375.50,169.44 L376.00,169.43 L376.50,169.42 L377.00,169.41 L377.50,169.40 L378.00,169.39 L378.50,169.38 L379.00,169.37 L379.50,169.36 L380.00,169.35 L380.50,169.34 L381.00,169.33 L381.50,169.32 L382.00,169.31 L382.50,169.30 L383.00,169.29 L383.50,169.28 L384.00,169.27 L384.50,169.26 L385.00,169.25 L385.50,169.24 L386.00,169.23 L386.50,169.22 L387.00,169.21 L387.50,169.20 L388.00,169.19 L388.50,169.18 L389.00,169.17 L389.50,169.16 L390.00,169.15 L390.50,169.14 L391.00,169.13 L391.50,169.12 L392.00,169.11 L392.50,169.10 L393.00,169.09 L393.50,169.08 L394.00,169.08 L394.50,169.07 L395.00,169.06 L395.50,169.05 L396.00,169.04 L396.50,169.03 L397.00,169.02 L397.50,169.01 L398.00,169.01 L398.30,169.00" fill="none" stroke="#00f" stroke-width="2.0" stroke-linejoin="round" stroke-linecap="round"/>
<path d="M63.35,207.83L65.25,207.83L64.30,209.58ZM69.75,207.83L71.65,207.83L70.70,209.58ZM77.11,207.83L79.01,207.83L78.06,209.58ZM89.55,207.83L91.45,207.83L90.50,209.58Z" fill="#00f"/>
<path d="M398.30,19.59 L398.00,19.59 L397.50,19.60 L397.00,19.60 L396.50,19.60 L396.00,19.61 L395.50,19.61 L395.00,19.62 L394.50,19.62 L394.00,19.62 L393.50,19.63 L393.00,19.63 L392.50,19.63 L392.00,19.64 L391.50,19.64 L391.00,19.64 L390.50,19.65 L390.00,19.65 L389.50,19.66 L389.00,19.66 L388.50,19.66 L388.00,19.67 L387.50,19.67 L387.00,19.67 L386.50,19.68 L386.00,19.68 L385.50,19.69 L385.00,19.69 L384.50,19.69 L384.00,19.70 L383.50,19.70 L383.00,19.71 L382.50,19.71 L382.00,19.72 L381.50,19.72 L381.00,19.72 L380.50,19.73 L380.00,19.73 L379.50,19.74 L379.00,19.74 L378.50,19.74 L378.00,19.75 L377.50,19.75 L377.00,19.76 L376.50,19.76 L376.00,19.77 L375.50,19.77 L375.00,19.78 L374.50,19.78 L374.00,19.78 L373.50,19.79 L373.00,19.79 L372.50,19.80 L372.00,19.80 L371.50,19.81 L371.00,19.81 L370.50,19.82 L370.00,19.82 L369.50,19.83 L369.00,19.83 L368.50,19.84 L368.00,19.84 L367.50,19.85 L367.00,19.85 L366.50,19.86 L366.00,19.86 L365.50,19.87 L365.00,19.87 L364.50,19.88 L364.00,19.88 L363.50,19.89 L363.00,19.89 L362.50,19.90 L362.00,19.90 L361.50,19.91 L361.00,19.91 L360.50,19.92 L360.00,19.92 L359.50,19.93 L359.00,19.93 L358.50,19.94 L358.00,19.95 L357.50,19.95 L357.00,19.96 L356.50,19.96 L356.00,19.97 L355.50,19.97 L355.00,19.98 L354.50,19.99 L354.00,19.99 L353.50,20.00 L353.00,20.00 L352.50,20.01 L352.00,20.02 L351.50,20.02 L351.00,20.03 L350.50,20.03 L350.00,20.04 L349.50,20.05 L349.00,20.05 L348.50,20.06 L348.00,20.06 L347.50,20.07 L347.00,20.08 L346.50,20.08 L346.00,20.09 L345.50,20.10 L345.00,20.10 L344.50,20.11 L344.00,20.12 L343.50,20.12 L343.00,20.13 L342.50,20.14 L342.00,20.14 L341.50,20.15 L341.00,20.16 L340.50,20.16 L340.00,20.17 L339.50,20.18 L339.00,20.19 L338.50,20.19 L338.00,20.20 L337.50,20.21 L337.00,20.21 L336.50,20.22 L336.00,20.23 L335.50,20.24 L335.00,20.24 L334.50,20.25 L334.00,20.26 L333.50,20.27 L333.00,20.28 L332.50,20.28 L332.00,20.29 L331.50,20.30 L331.00,20.31 L330.50,20.32 L330.00,20.32 L329.50,20.33 L329.00,20.34 L328.50,20.35 L328.00,20.36 L327.50,20.36 L327.00,20.37 L326.50,20.38 L326.00,20.39 L325.50,20.40 L325.00,20.41 L324.50,20.42 L324.00,20.42 L323.50,20.43 L323.00,20.44 L322.50,20.45 L322.00,20.46 L321.50,20.47 L321.00,20.48 L320.50,20.49 L320.00,20.50 L319.50,20.51 L319.00,20.52 L318.50,20.53 L318.00,20.54 L317.50,20.55 L317.00,20.56 L316.50,20.57 L316.00,20.58 L315.50,20.59 L315.00,20.60 L314.50,20.61 L314.00,20.62 L313.50,20.63 L313.00,20.64 L312.50,20.65 L312.00,20.66 L311.50,20.67 L311.00,20.68 L310.50,20.69 L310.00,20.70 L309.50,20.71 L309.00,20.72 L308.50,20.73 L308.00,20.74 L307.50,20.76 L307.00,20.77 L306.50,20.78 L306.00,20.79 L305.50,20.80 L305.00,20.81 L304.50,20.83 L304.00,20.84 L303.50,20.85 L303.00,20.86 L302.50,20.87 L302.00,20.89 L301.50,20.90 L301.00,20.91 L300.50,20.92 L300.00,20.94 L299.50,20.95 L299.00,20.96 L298.50,20.98 L298.00,20.99 L297.50,21.00 L297.00,21.02 L296.50,21.03 L296.00,21.04 L295.50,21.06 L295.00,21.07 L294.50,21.08 L294.00,21.10 L293.50,21.11 L293.00,21.13 L292.50,21.14 L292.00,21.15 L291.50,21.17 L291.00,21.18 L290.50,21.20 L290.00,21.21 L289.50,21.23 L289.00,21.24 L288.50,21.26 L288.00,21.28 L287.50,21.29 L287.00,21.31 L286.50,21.32 L286.00,21.34 L285.50,21.35 L285.00,21.37 L284.50,21.39 L284.00,21.40 L283.50,21.42 L283.00,21.44 L282.50,21.45 L282.00,21.47 L281.50,21.49 L281.00,21.51 L280.50,21.52 L280.00,21.54 L279.50,21.56 L279.00,21.58 L278.50,21.60 L278.00,21.61 L277.50,21.63 L277.00,21.65 L276.50,21.67 L276.00,21.69 L275.50,21.71 L275.00,21.73 L274.50,21.75 L274.00,21.77 L273.50,21.79 L273.00,21.81 L272.50,21.83 L272.00,21.85 L271.50,21.87 L271.00,21.89 L270.50,21.91 L270.00,21.93 L269.50,21.95 L269.00,21.98 L268.50,22.00 L268.00,22.02 L267.50,22.04 L267.00,22.06 L266.50,22.09 L266.00,22.11 L265.50,22.13 L265.00,22.16 L264.50,22.18 L264.00,22.20 L263.50,22.23 L263.00,22.25 L262.50,22.28 L262.00,22.30 L261.50,22.33 L261.00,22.35 L260.50,22.38 L260.00,22.40 L259.50,22.43 L259.00,22.46 L258.50,22.48 L258.00,22.51 L257.50,22.54 L257.00,22.56 L256.50,22.59 L256.00,22.62 L255.50,22.65 L255.00,22.67 L254.50,22.70 L254.00,22.73 L253.50,22.76 L253.00,22.79 L252.50,22.82 L252.00,22.85 L251.50,22.88 L251.00,22.91 L250.50,22.94 L250.00,22.97 L249.50,23.00 L249.00,23.04 L248.50,23.07 L248.00,23.10 L247.50,23.13 L247.00,23.17 L246.50,23.20 L246.00,23.24 L245.50,23.27 L245.00,23.30 L244.50,23.34 L244.00,23.37 L243.50,23.41 L243.00,23.45 L242.50,23.48 L242.00,23.52 L241.50,23.56 L241.00,23.59 L240.50,23.63 L240.00,23.67 L239.50,23.71 L239.00,23.75 L238.50,23.79 L238.00,23.83 L237.50,23.87 L237.00,23.91 L236.50,23.95 L236.00,23.99 L235.50,24.04 L235.00,24.08 L234.50,24.12 L234.00,24.17 L233.50,24.21 L233.00,24.26 L232.50,24.30 L232.00,24.35 L231.50,24.39 L231.00,24.44 L230.50,24.49 L230.00,24.54 L229.50,24.58 L229.00,24.63 L228.50,24.68 L228.00,24.73 L227.50,24.78 L227.00,24.83 L226.50,24.89 L226.00,24.94 L225.50,24.99 L225.00,25.04 L224.50,25.10 L224.00,25.15 L223.50,25.21 L223.00,25.27 L222.50,25.32 L222.00,25.38 L221.50,25.44 L221.00,25.50 L220.50,25.56 L220.00,25.62 L219.50,25.68 L219.00,25.74 L218.50,25.80 L218.00,25.86 L217.50,25.93 L217.00,25.99 L216.50,26.06 L216.00,26.12 L215.50,26.19 L215.00,26.26 L214.50,26.33 L214.00,26.40 L213.50,26.47 L213.00,26.54 L212.50,26.61 L212.00,26.68 L211.50,26.75 L211.00,26.83 L210.50,26.90 L210.00,26.98 L209.50,27.06 L209.00,27.14 L208.50,27.21 L208.00,27.29 L207.50,27.38 L207.00,27.46 L206.50,27.54 L206.00,27.62 L205.50,27.71 L205.00,27.80 L204.50,27.88 L204.00,27.97 L203.50,28.06 L203.00,28.15 L202.50,28.24 L202.00,28.34 L201.50,28.43 L201.00,28.52 L200.50,28.62 L200.00,28.72 L199.50,28.82 L199.00,28.92 L198.50,29.02 L198.00,29.12 L197.50,29.22 L197.00,29.33 L196.50,29.43 L196.00,29.54 L195.50,29.65 L195.00,29.76 L194.50,29.87 L194.00,29.99 L193.50,30.10 L193.00,30.22 L192.50,30.33 L192.00,30.45 L191.50,30.57 L191.00,30.69 L190.50,30.82 L190.00,30.94 L189.50,31.07 L189.00,31.20 L188.50,31.32 L188.00,31.45 L187.50,31.59 L187.00,31.72 L186.50,31.86 L186.00,31.99 L185.50,32.13 L185.00,32.27 L184.50,32.42 L184.00,32.56 L183.50,32.70 L183.00,32.85 L182.50,33.00 L182.00,33.15 L181.50,33.30 L181.00,33.46 L180.50,33.61 L180.00,33.77 L179.50,33.93 L179.00,34.09 L178.50,34.25 L178.00,34.42 L177.50,34.58 L177.00,34.75 L176.50,34.92 L176.00,35.09 L175.50,35.26 L175.00,35.44 L174.50,35.61 L174.00,35.79 L173.50,35.97 L173.00,36.15 L172.50,36.33 L172.00,36.52 L171.50,36.70 L171.00,36.89 L170.50,37.08 L170.00,37.26 L169.50,37.46 L169.00,37.65 L168.50,37.84 L168.00,38.03 L167.50,38.23 L167.00,38.43 L166.50,38.62 L166.00,38.82 L165.50,39.02 L165.00,39.22 L164.50,39.42 L164.00,39.62 L163.50,39.82 L163.00,40.02 L162.50,40.22 L162.00,40.42 L161.50,40.62 L161.00,40.81 L160.50,41.01 L160.00,41.21 L159.50,41.40 L159.00,41.60 L158.50,41.79 L158.00,41.98 L157.50,42.17 L157.00,42.35 L156.50,42.53 L156.00,42.71 L155.50,42.89 L155.00,43.06 L154.50,43.23 L154.00,43.39 L153.50,43.55 L153.00,43.70 L152.50,43.85 L152.00,43.99 L151.50,44.12 L151.00,44.24 L150.50,44.36 L150.00,44.46 L149.95,44.47 L149.90,44.48 L149.85,44.49 L149.80,44.50 L149.75,44.51 L149.70,44.52 L149.65,44.53 L149.60,44.54 L149.55,44.55 L149.50,44.56 L149.45,44.57 L149.40,44.58 L149.35,44.59 L149.30,44.60 L149.25,44.60 L149.20,44.61 L149.15,44.62 L149.10,44.63 L149.05,44.64 L149.00,44.65 L148.95,44.66 L148.90,44.66 L148.85,44.67 L148.80,44.68 L148.75,44.69 L148.70,44.70 L148.65,44.70 L148.60,44.71 L148.55,44.72 L148.50,44.73 L148.45,44.73 L148.40,44.74 L148.35,44.75 L148.30,44.76 L148.25,44.76 L148.20,44.77 L148.15,44.78 L148.10,44.78 L148.05,44.79 L148.00,44.80 L147.95,44.80 L147.90,44.81 L147.85,44.82 L147.80,44.82 L147.75,44.83 L147.70,44.83 L147.65,44.84 L147.60,44.84 L147.55,44.85 L147.50,44.86 L147.45,44.86 L147.40,44.87 L147.35,44.87 L147.30,44.88 L147.25,44.88 L147.20,44.89 L147.15,44.89 L147.10,44.89 L147.05,44.90 L147.00,44.90 L146.95,44.91 L146.90,44.91 L146.85,44.92 L146.80,44.92 L146.75,44.92 L146.70,44.93 L146.65,44.93 L146.60,44.93 L146.55,44.94 L146.50,44.94 L146.45,44.94 L146.40,44.94 L146.35,44.95 L146.30,44.95 L146.25,44.95 L146.20,44.95 L146.15,44.95 L146.10,44.96 L146.05,44.96 L146.00,44.96 L145.95,44.96 L145.90,44.96 L145.85,44.96 L145.80,44.96 L145.75,44.96 L145.70,44.96 L145.65,44.96 L145.60,44.96 L145.55,44.96 L145.50,44.96 L145.45,44.96 L145.40,44.96 L145.35,44.96 L145.30,44.96 L145.25,44.96 L145.20,44.96 L145.15,44.96 L145.10,44.96 L145.05,44.95 L145.00,44.95 L144.95,44.95 L144.90,44.95 L144.85,44.94 L144.80,44.94 L144.75,44.94 L144.70,44.93 L144.65,44.93 L144.60,44.93 L144.55,44.92 L144.50,44.92 L144.45,44.91 L144.40,44.91 L144.35,44.91 L144.30,44.90 L144.25,44.89 L144.20,44.89 L144.15,44.88 L144.10,44.88 L144.05,44.87 L144.00,44.87 L143.95,44.86 L143.90,44.85 L143.85,44.84 L143.80,44.84 L143.75,44.83 L143.70,44.82 L143.65,44.81 L143.60,44.80 L143.55,44.80 L143.50,44.79 L143.45,44.78 L143.40,44.77 L143.35,44.76 L143.30,44.75 L143.25,44.74 L143.20,44.73 L143.15,44.72 L143.10,44.71 L143.05,44.70 L143.00,44.68 L142.95,44.67 L142.90,44.66 L142.85,44.65 L142.80,44.64 L142.75,44.62 L142.70,44.61 L142.65,44.60 L142.60,44.58 L142.55,44.57 L142.50,44.56 L142.45,44.54 L142.40,44.53 L142.35,44.51 L142.30,44.50 L142.25,44.48 L142.20,44.46 L142.15,44.45 L142.10,44.43 L142.05,44.41 L142.00,44.40 L141.95,44.38 L141.90,44.36 L141.85,44.34 L141.80,44.33 L141.75,44.31 L141.70,44.29 L141.65,44.27 L141.60,44.25 L141.55,44.23 L141.50,44.21 L141.45,44.19 L141.40,44.17 L141.35,44.15 L141.30,44.13 L141.25,44.11 L141.20,44.08 L141.15,44.06 L141.10,44.04 L141.05,44.02 L141.00,43.99 L140.95,43.97 L140.90,43.95 L140.85,43.92 L140.80,43.90 L140.75,43.87 L140.70,43.85 L140.65,43.82 L140.60,43.80 L140.55,43.77 L140.50,43.75 L140.45,43.72 L140.40,43.69 L140.35,43.66 L140.30,43.64 L140.25,43.61 L140.20,43.58 L140.15,43.55 L140.10,43.52 L140.05,43.49 L140.00,43.47 L139.95,43.44 L139.90,43.41 L139.85,43.37 L139.80,43.34 L139.75,43.31 L139.70,43.28 L139.65,43.25 L139.60,43.22 L139.55,43.19 L139.50,43.15 L139.45,43.12 L139.40,43.09 L139.35,43.05 L139.30,43.02 L139.25,42.98 L139.20,42.95 L139.15,42.92 L139.10,42.88 L139.05,42.84 L139.00,42.81 L138.95,42.77 L138.90,42.74 L138.85,42.70 L138.80,42.66 L138.75,42.62 L138.70,42.59 L138.65,42.55 L138.60,42.51 L138.55,42.47 L138.50,42.43 L138.45,42.39 L138.40,42.35 L138.35,42.31 L138.30,42.27 L138.25,42.23 L138.20,42.19 L138.15,42.15 L138.10,42.11 L138.05,42.07 L138.00,42.02 L137.95,41.98 L137.90,41.94 L137.85,41.90 L137.80,41.85 L137.75,41.81 L137.70,41.76 L137.65,41.72 L137.60,41.67 L137.55,41.63 L137.50,41.58 L137.45,41.54 L137.40,41.49 L137.35,41.45 L137.30,41.40 L137.25,41.35 L137.20,41.31 L137.15,41.26 L137.10,41.21 L137.05,41.16 L137.00,41.11 L136.95,41.07 L136.90,41.02 L136.85,40.97 L136.80,40.92 L136.75,40.87 L136.70,40.82 L136.65,40.77 L136.60,40.72 L136.55,40.67 L136.50,40.62 L136.45,40.56 L136.40,40.51 L136.35,40.46 L136.30,40.41 L136.25,40.36 L136.20,40.30 L136.15,40.25 L136.10,40.20 L136.05,40.14 L136.00,40.09 L135.95,40.03 L135.90,39.98 L135.85,39.92 L135.80,39.87 L135.75,39.81 L135.70,39.76 L135.65,39.70 L135.60,39.65 L135.55,39.59 L135.50,39.53 L135.45,39.48 L135.40,39.42 L135.35,39.36 L135.30,39.31 L135.25,39.25 L135.20,39.19 L135.15,39.13 L135.10,39.07 L135.05,39.01 L135.00,38.96 L134.95,38.90 L134.90,38.84 L134.85,38.78 L134.80,38.72 L134.75,38.66 L134.70,38.60 L134.65,38.54 L134.60,38.48 L134.55,38.41 L134.50,38.35 L134.45,38.29 L134.40,38.23 L134.35,38.17 L134.30,38.11 L134.25,38.04 L134.20,37.98 L134.15,37.92 L134.10,37.86 L134.05,37.79 L134.00,37.73 L133.95,37.67 L133.90,37.60 L133.85,37.54 L133.80,37.48 L133.75,37.41 L133.70,37.35 L133.65,37.28 L133.60,37.22 L133.55,37.15 L133.50,37.09 L133.45,37.02 L133.40,36.96 L133.35,36.89 L133.30,36.83 L133.25,36.76 L133.20,36.69 L133.15,36.63 L133.10,36.56 L133.05,36.49 L133.00,36.43 L132.95,36.36 L132.90,36.29 L132.85,36.22 L132.80,36.15 L132.75,36.08 L132.70,36.01 L132.65,35.94 L132.60,35.87 L132.55,35.80 L132.50,35.73 L132.45,35.66 L132.40,35.58 L132.35,35.51 L132.30,35.44 L132.25,35.36 L132.20,35.29 L132.15,35.21 L132.10,35.14 L132.05,35.06 L132.00,34.99 L131.95,34.91 L131.90,34.84 L131.85,34.76 L131.80,34.68 L131.75,34.61 L131.70,34.53 L131.65,34.45 L131.60,34.37 L131.55,34.30 L131.50,34.22 L131.45,34.14 L131.40,34.06 L131.35,33.98 L131.30,33.90 L131.25,33.82 L131.20,33.74 L131.15,33.66 L131.10,33.58 L131.05,33.50 L131.00,33.42 L130.95,33.34 L130.90,33.26 L130.85,33.18 L130.80,33.09 L130.75,33.01 L130.70,32.93 L130.65,32.85 L130.60,32.77 L130.55,32.69 L130.50,32.60 L130.45,32.52 L130.40,32.44 L130.35,32.36 L130.30,32.27 L130.25,32.19 L130.20,32.11 L130.15,32.03 L130.10,31.94 L130.05,31.86 L130.00,31.78 L129.95,31.69 L129.90,31.61 L129.85,31.53 L129.80,31.45 L129.75,31.36 L129.70,31.28 L129.65,31.20 L129.60,31.11 L129.55,31.03 L129.50,30.95 L129.45,30.87 L129.40,30.78 L129.35,30.70 L129.30,30.62 L129.25,30.54 L129.20,30.45 L129.15,30.37 L129.10,30.29 L129.05,30.21 L129.00,30.13 L128.95,30.05 L128.90,29.96 L128.85,29.88 L128.80,29.80 L128.75,29.72 L128.70,29.64 L128.65,29.56 L128.60,29.48 L128.55,29.40 L128.50,29.32 L128.45,29.24 L128.40,29.16 L128.35,29.09 L128.30,29.01 L128.25,28.93 L128.20,28.85 L128.15,28.78 L128.10,28.70 L128.05,28.63 L128.00,28.55 L127.95,28.48 L127.90,28.40 L127.85,28.33 L127.80,28.25 L127.75,28.18 L127.70,28.10 L127.65,28.03 L127.60,27.95 L127.55,27.88 L127.50,27.81 L127.45,27.73 L127.40,27.66 L127.35,27.59 L127.30,27.51 L127.25,27.44 L127.20,27.37 L127.15,27.29 L127.10,27.22 L127.05,27.15 L127.00,27.07 L126.95,27.00 L126.90,26.93 L126.85,26.85 L126.80,26.78 L126.75,26.71 L126.70,26.63 L126.65,26.56 L126.60,26.48 L126.55,26.41 L126.50,26.33 L126.45,26.26 L126.40,26.18 L126.35,26.11 L126.30,26.03 L126.25,25.96 L126.20,25.88 L126.15,25.80 L126.10,25.72 L126.05,25.65 L126.00,25.57 L125.95,25.49 L125.90,25.41 L125.85,25.33 L125.80,25.25 L125.75,25.17 L125.70,25.09 L125.65,25.01 L125.60,24.93 L125.55,24.84 L125.50,24.76 L125.45,24.68 L125.40,24.59 L125.35,24.51 L125.30,24.42 L125.25,24.34 L125.20,24.25 L125.15,24.16 L125.10,24.08 L125.05,23.99 L125.00,23.90 L124.95,23.81 L124.90,23.72 L124.85,23.63 L124.80,23.53 L124.75,23.44 L124.70,23.35 L124.65,23.25 L124.60,23.15 L124.55,23.06 L124.50,22.96 L124.45,22.86 L124.40,22.76 L124.35,22.67 L124.30,22.57 L124.25,22.47 L124.20,22.36 L124.15,22.26 L124.10,22.16 L124.05,22.06 L124.00,21.96 L123.95,21.85 L123.90,21.75 L123.85,21.65 L123.80,21.54 L123.75,21.44 L123.70,21.34 L123.65,21.23 L123.60,21.13 L123.55,21.02 L123.50,20.92 L123.45,20.81 L123.40,20.71 L123.35,20.60 L123.30,20.50 L123.25,20.39 L123.20,20.29 L123.15,20.19 L123.10,20.08 L123.05,19.98 L123.00,19.87 L122.95,19.77 L122.90,19.67 L122.85,19.57 L122.80,19.46 L122.75,19.36 L122.70,19.26 L122.65,19.16 L122.60,19.06 L122.55,18.96 L122.50,18.86 L122.45,18.76 L122.40,18.66 L122.35,18.56 L122.30,18.46 L122.25,18.36 L122.20,18.27 L122.15,18.17 L122.10,18.08 L122.05,17.98 L122.00,17.89 L121.95,17.79 L121.90,17.70 L121.85,17.61 L121.80,17.52 L121.75,17.43 L121.70,17.34 L121.65,17.25 L121.60,17.16 L121.55,17.07 L121.50,16.99 L121.45,16.90 L121.40,16.82 L121.35,16.73 L121.30,16.65 L121.25,16.56 L121.20,16.48 L121.15,16.39 L121.10,16.31 L121.05,16.23 L121.00,16.15 L120.95,16.07 L120.90,15.99 L120.85,15.91 L120.80,15.83 L120.75,15.75 L120.70,15.67 L120.65,15.59 L120.60,15.52 L120.55,15.44 L120.50,15.36 L120.45,15.29 L120.40,15.21 L120.35,15.14 L120.30,15.06 L120.25,14.99 L120.20,14.92 L120.15,14.85 L120.10,14.77 L120.05,14.70 L120.00,14.63 L119.95,14.56 L119.90,14.49 L119.85,14.43 L119.80,14.36 L119.75,14.29 L119.70,14.22 L119.65,14.16 L119.60,14.09 L119.55,14.03 L119.50,13.96 L119.45,13.90 L119.40,13.83 L119.35,13.77 L119.30,13.71 L119.25,13.65 L119.20,13.59 L119.15,13.53 L119.10,13.47 L119.05,13.41 L119.00,13.35 L118.95,13.29 L118.90,13.24 L118.85,13.18 L118.80,13.13 L118.75,13.07 L118.70,13.02 L118.65,12.97 L118.60,12.91 L118.55,12.86 L118.50,12.81 L118.45,12.76 L118.40,12.71 L118.35,12.66 L118.30,12.61 L118.25,12.57 L118.20,12.52 L118.15,12.48 L118.10,12.43 L118.05,12.39 L118.00,12.34 L117.95,12.30 L117.90,12.26 L117.85,12.22 L117.80,12.18 L117.75,12.14 L117.70,12.10 L117.65,12.07 L117.60,12.03 L117.55,12.00 L117.50,11.96 L117.45,11.93 L117.40,11.90 L117.35,11.86 L117.30,11.83 L117.25,11.80 L117.20,11.78 L117.15,11.75 L117.10,11.72 L117.05,11.70 L117.00,11.67 L116.95,11.65 L116.90,11.63 L116.85,11.60 L116.80,11.58 L116.75,11.56 L116.70,11.55 L116.65,11.53 L116.60,11.51 L116.55,11.50 L116.50,11.48 L116.45,11.47 L116.40,11.46 L116.35,11.45 L116.30,11.44 L116.25,11.43 L116.20,11.42 L116.15,11.41 L116.10,11.41 L116.05,11.41 L116.00,11.40 L115.95,11.40 L115.90,11.40 L115.85,11.40 L115.80,11.40 L115.75,11.41 L115.70,11.41 L115.65,11.41 L115.60,11.42 L115.55,11.43 L115.50,11.44 L115.45,11.45 L115.40,11.46 L115.35,11.47 L115.30,11.49 L115.25,11.50 L115.20,11.52 L115.15,11.53 L115.10,11.55 L115.05,11.57 L115.00,11.59 L114.95,11.62 L114.90,11.64 L114.85,11.67 L114.80,11.69 L114.75,11.72 L114.70,11.75 L114.65,11.78 L114.60,11.81 L114.55,11.84 L114.50,11.88 L114.45,11.91 L114.40,11.95 L114.35,11.99 L114.30,12.03 L114.25,12.07 L114.20,12.11 L114.15,12.16 L114.10,12.20 L114.05,12.25 L114.00,12.30 L113.95,12.35 L113.90,12.40 L113.85,12.45 L113.80,12.51 L113.75,12.57 L113.70,12.62 L113.65,12.68 L113.60,12.74 L113.55,12.81 L113.50,12.87 L113.45,12.94 L113.40,13.00 L113.35,13.07 L113.30,13.14 L113.25,13.21 L113.20,13.29 L113.15,13.36 L113.10,13.44 L113.05,13.52 L113.00,13.60 L112.95,13.68 L112.90,13.76 L112.85,13.85 L112.80,13.93 L112.75,14.02 L112.70,14.11 L112.65,14.20 L112.60,14.29 L112.55,14.38 L112.50,14.48 L112.45,14.57 L112.40,14.67 L112.35,14.77 L112.30,14.87 L112.25,14.98 L112.20,15.08 L112.15,15.19 L112.10,15.29 L112.05,15.40 L112.00,15.51 L111.95,15.63 L111.90,15.74 L111.85,15.86 L111.80,15.97 L111.75,16.09 L111.70,16.21 L111.65,16.33 L111.60,16.46 L111.55,16.58 L111.50,16.71 L111.45,16.84 L111.40,16.97 L111.35,17.10 L111.30,17.23 L111.25,17.37 L111.20,17.50 L111.15,17.64 L111.10,17.78 L111.05,17.92 L111.00,18.07 L110.95,18.21 L110.90,18.36 L110.85,18.50 L110.80,18.65 L110.75,18.81 L110.70,18.96 L110.65,19.11 L110.60,19.27 L110.55,19.43 L110.50,19.58 L110.45,19.75 L110.40,19.91 L110.35,20.07 L110.30,20.24 L110.25,20.40 L110.20,20.57 L110.15,20.74 L110.10,20.92 L110.05,21.09 L110.00,21.27 L109.95,21.44 L109.90,21.62 L109.85,21.80 L109.80,21.98 L109.75,22.16 L109.70,22.35 L109.65,22.54 L109.60,22.72 L109.55,22.91 L109.50,23.10 L109.45,23.30 L109.40,23.49 L109.35,23.68 L109.30,23.88 L109.25,24.08 L109.20,24.28 L109.15,24.48 L109.10,24.68 L109.05,24.89 L109.00,25.09 L108.95,25.30 L108.90,25.51 L108.85,25.71 L108.80,25.93 L108.75,26.14 L108.70,26.35 L108.65,26.56 L108.60,26.78 L108.55,26.99 L108.50,27.21 L108.45,27.43 L108.40,27.64 L108.35,27.86 L108.30,28.08 L108.25,28.30 L108.20,28.52 L108.15,28.74 L108.10,28.97 L108.05,29.19 L108.00,29.41 L107.95,29.64 L107.90,29.86 L107.85,30.09 L107.80,30.31 L107.75,30.54 L107.70,30.76 L107.65,30.99 L107.60,31.22 L107.55,31.44 L107.50,31.67 L107.45,31.90 L107.40,32.12 L107.35,32.35 L107.30,32.58 L107.25,32.81 L107.20,33.03 L107.15,33.26 L107.10,33.49 L107.05,33.72 L107.00,33.94 L106.95,34.17 L106.90,34.40 L106.85,34.62 L106.80,34.85 L106.75,35.07 L106.70,35.30 L106.65,35.52 L106.60,35.75 L106.55,35.97 L106.50,36.19 L106.45,36.41 L106.40,36.63 L106.35,36.85 L106.30,37.07 L106.25,37.29 L106.20,37.50 L106.15,37.72 L106.10,37.93 L106.05,38.14 L106.00,38.35 L105.95,38.56 L105.90,38.77 L105.85,38.97 L105.80,39.18 L105.75,39.38 L105.70,39.58 L105.65,39.77 L105.60,39.97 L105.55,40.16 L105.50,40.35 L105.45,40.54 L105.40,40.73 L105.35,40.91 L105.30,41.09 L105.25,41.27 L105.20,41.45 L105.15,41.62 L105.10,41.79 L105.05,41.95 L105.00,42.11 L104.95,42.27 L104.90,42.43 L104.85,42.58 L104.80,42.73 L104.75,42.87 L104.70,43.02 L104.65,43.15 L104.60,43.28 L104.55,43.41 L104.50,43.54 L104.45,43.66 L104.40,43.77 L104.35,43.88 L104.30,43.99 L104.25,44.09 L104.20,44.19 L104.15,44.28 L104.10,44.36 L104.05,44.44 L104.00,44.52 L103.95,44.59 L103.90,44.65 L103.85,44.71 L103.80,44.76 L103.75,44.81 L103.70,44.85 L103.65,44.88 L103.60,44.91 L103.55,44.94 L103.50,44.95 L103.45,44.96 L103.40,44.96" fill="none" stroke="#f00" stroke-width="1.4" stroke-dasharray="5.9 3.31" stroke-dashoffset="4.7" stroke-linejoin="round"/>
<path d="M60.25,11.40 L60.30,11.40 L60.35,11.40 L60.40,11.40 L60.45,11.40 L60.50,11.40 L60.55,11.41 L60.60,11.41 L60.65,11.42 L60.70,11.42 L60.75,11.43 L60.80,11.44 L60.85,11.46 L60.90,11.47 L60.95,11.49 L61.00,11.51 L61.05,11.54 L61.10,11.58 L61.15,11.62 L61.20,11.67 L61.25,11.73 L61.30,11.80 L61.35,11.88 L61.40,11.96 L61.45,12.05 L61.50,12.15 L61.55,12.26 L61.60,12.38 L61.65,12.51 L61.70,12.66 L61.75,12.82 L61.80,13.00 L61.85,13.20 L61.90,13.42 L61.95,13.66 L62.00,13.92 L62.05,14.21 L62.10,14.53 L62.15,14.88 L62.20,15.25 L62.25,15.66 L62.30,16.09 L62.35,16.56 L62.40,17.07 L62.45,17.60 L62.50,18.17 L62.55,18.77 L62.60,19.41 L62.65,20.09 L62.70,20.79 L62.75,21.53 L62.80,22.31 L62.85,23.11 L62.90,23.95 L62.95,24.81 L63.00,25.71 L63.05,26.62 L63.10,27.56 L63.15,28.52 L63.20,29.49 L63.25,30.48 L63.30,31.47 L63.35,32.47 L63.40,33.46 L63.45,34.46 L63.50,35.44 L63.55,36.40 L63.60,37.35 L63.65,38.26 L63.70,39.14 L63.75,39.98 L63.80,40.78 L63.85,41.52 L63.90,42.20 L63.95,42.82 L64.00,43.37 L64.05,43.85 L64.10,44.24 L64.15,44.56 L64.20,44.78 L64.25,44.92 L64.30,44.96 L64.35,44.92 L64.40,44.78 L64.45,44.54 L64.50,44.19 L64.55,43.75 L64.60,43.21 L64.65,42.56 L64.70,41.82 L64.75,40.99 L64.80,40.06 L64.85,39.05 L64.90,37.96 L64.95,36.80 L65.00,35.58 L65.05,34.30 L65.10,32.98 L65.15,31.62 L65.20,30.23 L65.25,28.83 L65.30,27.42 L65.35,26.02 L65.40,24.62 L65.45,23.26 L65.50,21.92 L65.55,20.63 L65.60,19.40 L65.65,18.22 L65.70,17.11 L65.75,16.08 L65.80,15.14 L65.85,14.29 L65.90,13.53 L65.95,12.89 L66.00,12.35 L66.05,11.93 L66.10,11.63 L66.15,11.45 L66.20,11.40 L66.25,11.48 L66.30,11.68 L66.35,12.02 L66.40,12.48 L66.45,13.07 L66.50,13.78 L66.55,14.62 L66.60,15.57 L66.65,16.64 L66.70,17.81 L66.75,19.08 L66.80,20.44 L66.85,21.88 L66.90,23.39 L66.95,24.95 L67.00,26.56 L67.05,28.20 L67.10,29.86 L67.15,31.51 L67.20,33.15 L67.25,34.75 L67.30,36.30 L67.35,37.78 L67.40,39.16 L67.45,40.43 L67.50,41.58 L67.55,42.58 L67.60,43.42 L67.65,44.09 L67.70,44.57 L67.75,44.87 L67.80,44.96 L67.85,44.87 L67.90,44.57 L67.95,44.07 L68.00,43.37 L68.05,42.48 L68.10,41.41 L68.15,40.18 L68.20,38.80 L68.25,37.29 L68.30,35.67 L68.35,33.97 L68.40,32.20 L68.45,30.39 L68.50,28.56 L68.55,26.73 L68.60,24.93 L68.65,23.18 L68.70,21.49 L68.75,19.89 L68.80,18.38 L68.85,16.99 L68.90,15.73 L68.95,14.62 L69.00,13.65 L69.05,12.85 L69.10,12.22 L69.15,11.77 L69.20,11.49 L69.25,11.40 L69.30,11.49 L69.35,11.77 L69.40,12.22 L69.45,12.85 L69.50,13.65 L69.55,14.62 L69.60,15.73 L69.65,16.99 L69.70,18.38 L69.75,19.89 L69.80,21.49 L69.85,23.18 L69.90,24.93 L69.95,26.73 L70.00,28.56 L70.05,30.39 L70.10,32.20 L70.15,33.97 L70.20,35.67 L70.25,37.29 L70.30,38.80 L70.35,40.18 L70.40,41.41 L70.45,42.48 L70.50,43.37 L70.55,44.07 L70.60,44.57 L70.65,44.87 L70.70,44.96 L70.75,44.87 L70.80,44.58 L70.85,44.10 L70.90,43.45 L70.95,42.64 L71.00,41.67 L71.05,40.57 L71.10,39.36 L71.15,38.04 L71.20,36.64 L71.25,35.17 L71.30,33.66 L71.35,32.11 L71.40,30.54 L71.45,28.97 L71.50,27.41 L71.55,25.87 L71.60,24.37 L71.65,22.92 L71.70,21.52 L71.75,20.18 L71.80,18.92 L71.85,17.74 L71.90,16.65 L71.95,15.65 L72.00,14.75 L72.05,13.94 L72.10,13.25 L72.15,12.66 L72.20,12.18 L72.25,11.82 L72.30,11.57 L72.35,11.43 L72.40,11.40 L72.45,11.49 L72.50,11.69 L72.55,12.00 L72.60,12.42 L72.65,12.95 L72.70,13.57 L72.75,14.30 L72.80,15.11 L72.85,16.02 L72.90,17.01 L72.95,18.09 L73.00,19.23 L73.05,20.44 L73.10,21.71 L73.15,23.03 L73.20,24.39 L73.25,25.79 L73.30,27.22 L73.35,28.66 L73.40,30.10 L73.45,31.54 L73.50,32.97 L73.55,34.36 L73.60,35.72 L73.65,37.03 L73.70,38.27 L73.75,39.44 L73.80,40.53 L73.85,41.52 L73.90,42.40 L73.95,43.16 L74.00,43.80 L74.05,44.31 L74.10,44.67 L74.15,44.89 L74.20,44.96 L74.25,44.89 L74.30,44.67 L74.35,44.30 L74.40,43.80 L74.45,43.15 L74.50,42.38 L74.55,41.49 L74.60,40.49 L74.65,39.40 L74.70,38.21 L74.75,36.96 L74.80,35.64 L74.85,34.27 L74.90,32.86 L74.95,31.43 L75.00,29.98 L75.05,28.53 L75.10,27.09 L75.15,25.67 L75.20,24.28 L75.25,22.92 L75.30,21.62 L75.35,20.36 L75.40,19.17 L75.45,18.04 L75.50,16.99 L75.55,16.01 L75.60,15.12 L75.65,14.32 L75.70,13.61 L75.75,13.00 L75.80,12.48 L75.85,12.07 L75.90,11.75 L75.95,11.53 L76.00,11.42 L76.05,11.41 L76.10,11.50 L76.15,11.68 L76.20,11.97 L76.25,12.35 L76.30,12.83 L76.35,13.40 L76.40,14.05 L76.45,14.79 L76.50,15.60 L76.55,16.49 L76.60,17.45 L76.65,18.48 L76.70,19.56 L76.75,20.69 L76.80,21.87 L76.85,23.09 L76.90,24.34 L76.95,25.62 L77.00,26.91 L77.05,28.21 L77.10,29.52 L77.15,30.81 L77.20,32.10 L77.25,33.36 L77.30,34.59 L77.35,35.79 L77.40,36.93 L77.45,38.03 L77.50,39.06 L77.55,40.03 L77.60,40.92 L77.65,41.74 L77.70,42.47 L77.75,43.11 L77.80,43.66 L77.85,44.11 L77.90,44.47 L77.95,44.73 L78.00,44.90 L78.05,44.96 L78.10,44.93 L78.15,44.81 L78.20,44.60 L78.25,44.30 L78.30,43.91 L78.35,43.45 L78.40,42.90 L78.45,42.29 L78.50,41.60 L78.55,40.86 L78.60,40.06 L78.65,39.20 L78.70,38.31 L78.75,37.37 L78.80,36.40 L78.85,35.40 L78.90,34.38 L78.95,33.34 L79.00,32.29 L79.05,31.24 L79.10,30.17 L79.15,29.12 L79.20,28.06 L79.25,27.02 L79.30,25.99 L79.35,24.97 L79.40,23.98 L79.45,23.01 L79.50,22.06 L79.55,21.15 L79.60,20.26 L79.65,19.41 L79.70,18.60 L79.75,17.82 L79.80,17.08 L79.85,16.38 L79.90,15.73 L79.95,15.11 L80.00,14.55 L80.05,14.02 L80.10,13.55 L80.15,13.12 L80.20,12.73 L80.25,12.40 L80.30,12.11 L80.35,11.88 L80.40,11.69 L80.45,11.54 L80.50,11.45 L80.55,11.40 L80.60,11.41 L80.65,11.46 L80.70,11.55 L80.75,11.69 L80.80,11.88 L80.85,12.11 L80.90,12.39 L80.95,12.71 L81.00,13.07 L81.05,13.47 L81.10,13.91 L81.15,14.39 L81.20,14.91 L81.25,15.46 L81.30,16.05 L81.35,16.67 L81.40,17.32 L81.45,18.00 L81.50,18.71 L81.55,19.45 L81.60,20.21 L81.65,20.99 L81.70,21.79 L81.75,22.62 L81.80,23.45 L81.85,24.31 L81.90,25.17 L81.95,26.05 L82.00,26.93 L82.05,27.82 L82.10,28.71 L82.15,29.60 L82.20,30.50 L82.25,31.38 L82.30,32.26 L82.35,33.13 L82.40,33.99 L82.45,34.83 L82.50,35.66 L82.55,36.47 L82.60,37.25 L82.65,38.01 L82.70,38.74 L82.75,39.44 L82.80,40.11 L82.85,40.74 L82.90,41.34 L82.95,41.90 L83.00,42.41 L83.05,42.89 L83.10,43.32 L83.15,43.70 L83.20,44.03 L83.25,44.31 L83.30,44.55 L83.35,44.73 L83.40,44.86 L83.45,44.94 L83.50,44.96 L83.55,44.94 L83.60,44.86 L83.65,44.73 L83.70,44.55 L83.75,44.32 L83.80,44.04 L83.85,43.71 L83.90,43.33 L83.95,42.91 L84.00,42.45 L84.05,41.94 L84.10,41.40 L84.15,40.82 L84.20,40.20 L84.25,39.55 L84.30,38.87 L84.35,38.17 L84.40,37.44 L84.45,36.68 L84.50,35.91 L84.55,35.12 L84.60,34.32 L84.65,33.50 L84.70,32.67 L84.75,31.84 L84.80,31.00 L84.85,30.15 L84.90,29.31 L84.95,28.47 L85.00,27.63 L85.05,26.80 L85.10,25.97 L85.15,25.16 L85.20,24.36 L85.25,23.57 L85.30,22.79 L85.35,22.03 L85.40,21.29 L85.45,20.57 L85.50,19.86 L85.55,19.18 L85.60,18.53 L85.65,17.89 L85.70,17.29 L85.75,16.71 L85.80,16.15 L85.85,15.62 L85.90,15.13 L85.95,14.66 L86.00,14.22 L86.05,13.81 L86.10,13.43 L86.15,13.09 L86.20,12.77 L86.25,12.49 L86.30,12.24 L86.35,12.02 L86.40,11.84 L86.45,11.68 L86.50,11.56 L86.55,11.48 L86.60,11.42 L86.65,11.40 L86.70,11.41 L86.75,11.45 L86.80,11.53 L86.85,11.63 L86.90,11.77 L86.95,11.93 L87.00,12.13 L87.05,12.35 L87.10,12.61 L87.15,12.89 L87.20,13.20 L87.25,13.53 L87.30,13.90 L87.35,14.28 L87.40,14.70 L87.45,15.13 L87.50,15.59 L87.55,16.07 L87.60,16.58 L87.65,17.10 L87.70,17.64 L87.75,18.20 L87.80,18.77 L87.85,19.37 L87.90,19.98 L87.95,20.60 L88.00,21.23 L88.05,21.88 L88.10,22.53 L88.15,23.20 L88.20,23.87 L88.25,24.55 L88.30,25.24 L88.35,25.93 L88.40,26.62 L88.45,27.32 L88.50,28.01 L88.55,28.71 L88.60,29.40 L88.65,30.10 L88.70,30.78 L88.75,31.47 L88.80,32.14 L88.85,32.81 L88.90,33.47 L88.95,34.12 L89.00,34.76 L89.05,35.38 L89.10,36.00 L89.15,36.60 L89.20,37.18 L89.25,37.75 L89.30,38.30 L89.35,38.83 L89.40,39.34 L89.45,39.84 L89.50,40.31 L89.55,40.77 L89.60,41.20 L89.65,41.61 L89.70,41.99 L89.75,42.36 L89.80,42.70 L89.85,43.02 L89.90,43.31 L89.95,43.58 L90.00,43.82 L90.05,44.04 L90.10,44.24 L90.15,44.41 L90.20,44.56 L90.25,44.69 L90.30,44.79 L90.35,44.87 L90.40,44.92 L90.45,44.95 L90.50,44.96 L90.55,44.95 L90.60,44.92 L90.65,44.87 L90.70,44.80 L90.75,44.70 L90.80,44.59 L90.85,44.45 L90.90,44.30 L90.95,44.13 L91.00,43.93 L91.05,43.72 L91.10,43.50 L91.15,43.25 L91.20,42.99 L91.25,42.71 L91.30,42.42 L91.35,42.11 L91.40,41.79 L91.45,41.45 L91.50,41.10 L91.55,40.74 L91.60,40.37 L91.65,39.98 L91.70,39.59 L91.75,39.18 L91.80,38.76 L91.85,38.34 L91.90,37.91 L91.95,37.46 L92.00,37.02 L92.05,36.56 L92.10,36.10 L92.15,35.63 L92.20,35.16 L92.25,34.69 L92.30,34.21 L92.35,33.73 L92.40,33.24 L92.45,32.75 L92.50,32.26 L92.55,31.77 L92.60,31.28 L92.65,30.79 L92.70,30.30 L92.75,29.81 L92.80,29.32 L92.85,28.83 L92.90,28.35 L92.95,27.86 L93.00,27.38 L93.05,26.90 L93.10,26.43 L93.15,25.95 L93.20,25.49 L93.25,25.02 L93.30,24.57 L93.35,24.11 L93.40,23.66 L93.45,23.22 L93.50,22.78 L93.55,22.35 L93.60,21.93 L93.65,21.51 L93.70,21.09 L93.75,20.69 L93.80,20.29 L93.85,19.90 L93.90,19.52 L93.95,19.14 L94.00,18.77 L94.05,18.41 L94.10,18.06 L94.15,17.72 L94.20,17.38 L94.25,17.05 L94.30,16.73 L94.35,16.42 L94.40,16.12 L94.45,15.83 L94.50,15.55 L94.55,15.27 L94.60,15.01 L94.65,14.75 L94.70,14.51 L94.75,14.27 L94.80,14.04 L94.85,13.82 L94.90,13.61 L94.95,13.41 L95.00,13.22 L95.05,13.04 L95.10,12.87 L95.15,12.71 L95.20,12.56 L95.25,12.41 L95.30,12.28 L95.35,12.16 L95.40,12.04 L95.45,11.94 L95.50,11.84 L95.55,11.76 L95.60,11.68 L95.65,11.61 L95.70,11.55 L95.75,11.51 L95.80,11.47 L95.85,11.44 L95.90,11.41 L95.95,11.40 L96.00,11.40 L96.05,11.41 L96.10,11.42 L96.15,11.44 L96.20,11.48 L96.25,11.52 L96.30,11.57 L96.35,11.63 L96.40,11.69 L96.45,11.77 L96.50,11.85 L96.55,11.94 L96.60,12.04 L96.65,12.15 L96.70,12.26 L96.75,12.39 L96.80,12.52 L96.85,12.66 L96.90,12.80 L96.95,12.96 L97.00,13.12 L97.05,13.28 L97.10,13.46 L97.15,13.64 L97.20,13.83 L97.25,14.02 L97.30,14.23 L97.35,14.43 L97.40,14.65 L97.45,14.87 L97.50,15.09 L97.55,15.33 L97.60,15.56 L97.65,15.81 L97.70,16.06 L97.75,16.31 L97.80,16.57 L97.85,16.84 L97.90,17.11 L97.95,17.38 L98.00,17.66 L98.05,17.95 L98.10,18.24 L98.15,18.53 L98.20,18.83 L98.25,19.13 L98.30,19.43 L98.35,19.74 L98.40,20.06 L98.45,20.37 L98.50,20.69 L98.55,21.01 L98.60,21.34 L98.65,21.67 L98.70,22.00 L98.75,22.33 L98.80,22.67 L98.85,23.01 L98.90,23.35 L98.95,23.69 L99.00,24.03 L99.05,24.38 L99.10,24.73 L99.15,25.07 L99.20,25.42 L99.25,25.77 L99.30,26.13 L99.35,26.48 L99.40,26.83 L99.45,27.19 L99.50,27.54 L99.55,27.89 L99.60,28.25 L99.65,28.60 L99.70,28.95 L99.75,29.31 L99.80,29.66 L99.85,30.01 L99.90,30.36 L99.95,30.71 L100.00,31.06 L100.05,31.40 L100.10,31.75 L100.15,32.09 L100.20,32.43 L100.25,32.77 L100.30,33.11 L100.35,33.44 L100.40,33.78 L100.45,34.11 L100.50,34.43 L100.55,34.76 L100.60,35.08 L100.65,35.40 L100.70,35.71 L100.75,36.02 L100.80,36.33 L100.85,36.64 L100.90,36.94 L100.95,37.23 L101.00,37.53 L101.05,37.81 L101.10,38.10 L101.15,38.38 L101.20,38.65 L101.25,38.92 L101.30,39.19 L101.35,39.45 L101.40,39.71 L101.45,39.96 L101.50,40.20 L101.55,40.44 L101.60,40.68 L101.65,40.91 L101.70,41.13 L101.75,41.35 L101.80,41.56 L101.85,41.77 L101.90,41.97 L101.95,42.16 L102.00,42.35 L102.05,42.53 L102.10,42.71 L102.15,42.88 L102.20,43.04 L102.25,43.20 L102.30,43.35 L102.35,43.49 L102.40,43.63 L102.45,43.76 L102.50,43.88 L102.55,44.00 L102.60,44.11 L102.65,44.21 L102.70,44.31 L102.75,44.40 L102.80,44.48 L102.85,44.56 L102.90,44.63 L102.95,44.70 L103.00,44.75 L103.05,44.80 L103.10,44.85 L103.15,44.88 L103.20,44.91 L103.25,44.94 L103.30,44.95 L103.35,44.96 L103.40,44.96" fill="none" stroke="#f00" stroke-width="1.4" stroke-dasharray="5.9 3.31" stroke-dashoffset="0" stroke-linejoin="round"/>
<line x1="53.2" y1="125.9" x2="405.48" y2="125.9" stroke="#000" stroke-opacity="0.45" stroke-width="1.3"/>
<rect x="53.2" y="0.2" width="352.28000000000003" height="218.22" fill="none" stroke="#666" stroke-width="0.62"/>
<path d="M60.50,218.42v-4.5M60.50,0.2v4.5M77.50,218.42v-2.7M77.50,0.2v2.7M94.50,218.42v-2.7M94.50,0.2v2.7M110.50,218.42v-2.7M110.50,0.2v2.7M127.50,218.42v-2.7M127.50,0.2v2.7M144.50,218.42v-4.5M144.50,0.2v4.5M161.50,218.42v-2.7M161.50,0.2v2.7M178.50,218.42v-2.7M178.50,0.2v2.7M195.50,218.42v-2.7M195.50,0.2v2.7M212.50,218.42v-2.7M212.50,0.2v2.7M229.50,218.42v-4.5M229.50,0.2v4.5M246.50,218.42v-2.7M246.50,0.2v2.7M263.50,218.42v-2.7M263.50,0.2v2.7M279.50,218.42v-2.7M279.50,0.2v2.7M296.50,218.42v-2.7M296.50,0.2v2.7M313.50,218.42v-4.5M313.50,0.2v4.5M330.50,218.42v-2.7M330.50,0.2v2.7M347.50,218.42v-2.7M347.50,0.2v2.7M364.50,218.42v-2.7M364.50,0.2v2.7M381.50,218.42v-2.7M381.50,0.2v2.7M398.50,218.42v-4.5M398.50,0.2v4.5M53.2,217.50h2.7M405.48,217.50h-2.7M53.2,206.50h2.7M405.48,206.50h-2.7M53.2,194.50h2.7M405.48,194.50h-2.7M53.2,183.50h4.5M405.48,183.50h-4.5M53.2,171.50h2.7M405.48,171.50h-2.7M53.2,160.50h2.7M405.48,160.50h-2.7M53.2,148.50h2.7M405.48,148.50h-2.7M53.2,137.50h2.7M405.48,137.50h-2.7M53.2,126.50h4.5M405.48,126.50h-4.5M53.2,114.50h2.7M405.48,114.50h-2.7M53.2,103.50h2.7M405.48,103.50h-2.7M53.2,91.50h2.7M405.48,91.50h-2.7M53.2,80.50h2.7M405.48,80.50h-2.7M53.2,68.50h4.5M405.48,68.50h-4.5M53.2,57.50h2.7M405.48,57.50h-2.7M53.2,45.50h2.7M405.48,45.50h-2.7M53.2,34.50h2.7M405.48,34.50h-2.7M53.2,22.50h2.7M405.48,22.50h-2.7M53.2,11.50h4.5M405.48,11.50h-4.5" stroke="#666" stroke-width="0.68" fill="none"/>
<g class="fs" font-family="Liberation Serif, serif" font-size="13.5px" fill="#000">
<text transform="translate(60.25,233.2) scale(1,1.04)" text-anchor="middle" letter-spacing="0.12">0.000</text>
<text transform="translate(144.75,233.2) scale(1,1.04)" text-anchor="middle" letter-spacing="0.12">0.001</text>
<text transform="translate(229.25,233.2) scale(1,1.04)" text-anchor="middle" letter-spacing="0.12">0.002</text>
<text transform="translate(313.75,233.2) scale(1,1.04)" text-anchor="middle" letter-spacing="0.12">0.003</text>
<text transform="translate(398.25,233.2) scale(1,1.04)" text-anchor="middle" letter-spacing="0.12">0.004</text>
<text transform="translate(49.3,16.15) scale(1,1.04)" text-anchor="end">1.0</text>
<text transform="translate(49.3,73.45) scale(1,1.04)" text-anchor="end">0.5</text>
<text transform="translate(49.3,130.75) scale(1,1.04)" text-anchor="end">0.0</text>
<text transform="translate(49.3,188.05) scale(1,1.04)" text-anchor="end">0.5</text>
<text x="22.5" y="189.10">−</text>
</g>
<g class="fs" font-family="Liberation Serif, serif" font-size="13px" fill="#000">
<text x="208.6" y="255.8" font-size="13.8px">r</text>
<text x="216.9" y="258.0" font-size="17.5px">/</text>
<text transform="translate(224.4,255.8) scale(1,1.07)" font-style="italic">R</text><text x="232.9" y="258.0" font-size="10.2px">LC</text>
<g transform="translate(12.7,0) rotate(-90) scale(1,1.11)">
<text x="-132.3" y="0">I</text>
<text x="-114.0" y="0">P</text>
<text x="-95.7" y="0">V</text>
<text transform="translate(-121.75,0) scale(1.5,1)">,</text>
<text transform="translate(-103.55,0) scale(1.5,1)">,</text>
</g></g>
<g class="fn" font-family="Liberation Sans, sans-serif" font-size="11px" fill="#000">
<text x="306.3" y="192.3" font-style="italic">B</text><text x="312.0" y="194.2" font-size="8.8px">0</text>
<text x="320.4" y="192.3">=</text><text x="329.6" y="192.3">5</text><text x="338.1" y="192.3" font-size="9.8px">×</text>
<text x="347.3" y="192.3" class="fm" font-family="Liberation Mono, monospace" fill="#222">1</text><text x="353.2" y="192.3" class="fm" font-family="Liberation Mono, monospace" fill="#222">0</text>
<text x="360" y="189.15" font-size="7.9px">12</text><text x="371.8" y="192.3">G</text>
</g>
</svg>
</body></html>
